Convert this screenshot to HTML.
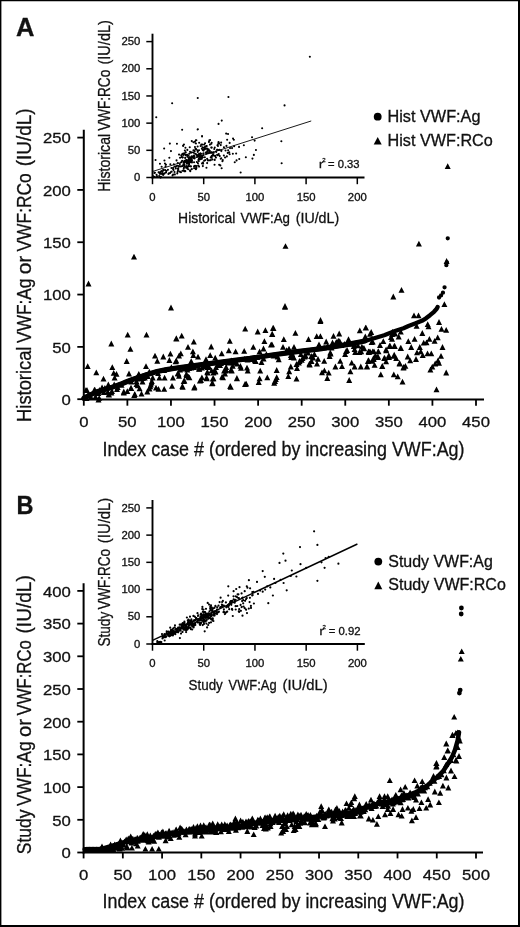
<!DOCTYPE html>
<html><head><meta charset="utf-8"><title>Figure</title>
<style>html,body{margin:0;padding:0;background:#fff}svg{display:block}text{font-family:"Liberation Sans",Arial,Helvetica,sans-serif;fill:#111;stroke:#111;stroke-width:0.3px}</style>
</head><body>
<svg width="520" height="927" viewBox="0 0 520 927">
<rect x="0" y="0" width="520" height="927" fill="#fff"/>
<rect x="0" y="0" width="520" height="1.25" fill="#000"/>
<rect x="0" y="0" width="1.4" height="927" fill="#000"/>
<rect x="518" y="0" width="2" height="927" fill="#000"/>
<rect x="0" y="925" width="520" height="2" fill="#000"/>
<text x="15.9" y="35.5" font-size="25.5" text-anchor="start" font-weight="bold" stroke-width="0.5">A</text>
<text x="16.4" y="513.6" font-size="25.5" text-anchor="start" textLength="17" lengthAdjust="spacingAndGlyphs" font-weight="bold" stroke-width="0.5">B</text>
<line x1="83.8" y1="129.8" x2="83.8" y2="400.4" stroke="#000" stroke-width="2" />
<line x1="82.8" y1="399.4" x2="484" y2="399.4" stroke="#000" stroke-width="2" />
<line x1="77.3" y1="399.2" x2="83.8" y2="399.2" stroke="#000" stroke-width="1.8" />
<text x="70.8" y="405.0" font-size="15.4" text-anchor="end" textLength="9.3" lengthAdjust="spacingAndGlyphs" >0</text>
<line x1="77.3" y1="346.88" x2="83.8" y2="346.88" stroke="#000" stroke-width="1.8" />
<text x="70.8" y="352.68" font-size="15.4" text-anchor="end" textLength="18.6" lengthAdjust="spacingAndGlyphs" >50</text>
<line x1="77.3" y1="294.559" x2="83.8" y2="294.559" stroke="#000" stroke-width="1.8" />
<text x="70.8" y="300.359" font-size="15.4" text-anchor="end" textLength="27.900" lengthAdjust="spacingAndGlyphs" >100</text>
<line x1="77.3" y1="242.239" x2="83.8" y2="242.239" stroke="#000" stroke-width="1.8" />
<text x="70.8" y="248.04" font-size="15.4" text-anchor="end" textLength="27.900" lengthAdjust="spacingAndGlyphs" >150</text>
<line x1="77.3" y1="189.919" x2="83.8" y2="189.919" stroke="#000" stroke-width="1.8" />
<text x="70.8" y="195.719" font-size="15.4" text-anchor="end" textLength="27.900" lengthAdjust="spacingAndGlyphs" >200</text>
<line x1="77.3" y1="137.599" x2="83.8" y2="137.599" stroke="#000" stroke-width="1.8" />
<text x="70.8" y="143.399" font-size="15.4" text-anchor="end" textLength="27.900" lengthAdjust="spacingAndGlyphs" >250</text>
<line x1="83.8" y1="399.4" x2="83.8" y2="405.7" stroke="#000" stroke-width="1.8" />
<text x="83.8" y="426.9" font-size="15.4" text-anchor="middle" textLength="9.3" lengthAdjust="spacingAndGlyphs" >0</text>
<line x1="127.377" y1="399.4" x2="127.377" y2="405.7" stroke="#000" stroke-width="1.8" />
<text x="127.377" y="426.9" font-size="15.4" text-anchor="middle" textLength="18.6" lengthAdjust="spacingAndGlyphs" >50</text>
<line x1="170.955" y1="399.4" x2="170.955" y2="405.7" stroke="#000" stroke-width="1.8" />
<text x="170.955" y="426.9" font-size="15.4" text-anchor="middle" textLength="27.900" lengthAdjust="spacingAndGlyphs" >100</text>
<line x1="214.533" y1="399.4" x2="214.533" y2="405.7" stroke="#000" stroke-width="1.8" />
<text x="214.533" y="426.9" font-size="15.4" text-anchor="middle" textLength="27.900" lengthAdjust="spacingAndGlyphs" >150</text>
<line x1="258.111" y1="399.4" x2="258.111" y2="405.7" stroke="#000" stroke-width="1.8" />
<text x="258.111" y="426.9" font-size="15.4" text-anchor="middle" textLength="27.900" lengthAdjust="spacingAndGlyphs" >200</text>
<line x1="301.688" y1="399.4" x2="301.688" y2="405.7" stroke="#000" stroke-width="1.8" />
<text x="301.688" y="426.9" font-size="15.4" text-anchor="middle" textLength="27.900" lengthAdjust="spacingAndGlyphs" >250</text>
<line x1="345.266" y1="399.4" x2="345.266" y2="405.7" stroke="#000" stroke-width="1.8" />
<text x="345.266" y="426.9" font-size="15.4" text-anchor="middle" textLength="27.900" lengthAdjust="spacingAndGlyphs" >300</text>
<line x1="388.844" y1="399.4" x2="388.844" y2="405.7" stroke="#000" stroke-width="1.8" />
<text x="388.844" y="426.9" font-size="15.4" text-anchor="middle" textLength="27.900" lengthAdjust="spacingAndGlyphs" >350</text>
<line x1="432.422" y1="399.4" x2="432.422" y2="405.7" stroke="#000" stroke-width="1.8" />
<text x="432.422" y="426.9" font-size="15.4" text-anchor="middle" textLength="27.900" lengthAdjust="spacingAndGlyphs" >400</text>
<line x1="476.0" y1="399.4" x2="476.0" y2="405.7" stroke="#000" stroke-width="1.8" />
<text x="476.0" y="426.9" font-size="15.4" text-anchor="middle" textLength="27.900" lengthAdjust="spacingAndGlyphs" >450</text>
<text x="283.5" y="455.5" font-size="19.4" text-anchor="middle" textLength="362" lengthAdjust="spacingAndGlyphs" >Index case # (ordered by increasing VWF:Ag)</text>
<text x="31.3" y="421.9" font-size="20.8" textLength="75.3" lengthAdjust="spacingAndGlyphs" stroke-width="0.15" transform="rotate(-90 31.3 421.9)">Historical</text>
<text x="31.3" y="342.9" font-size="20.8" textLength="64.4" lengthAdjust="spacingAndGlyphs" stroke-width="0.15" transform="rotate(-90 31.3 342.9)">VWF:Ag</text>
<text x="31.3" y="274.3" font-size="20.8" textLength="18.6" lengthAdjust="spacingAndGlyphs" stroke-width="0.15" transform="rotate(-90 31.3 274.3)">or</text>
<text x="31.3" y="251.5" font-size="20.8" textLength="78.3" lengthAdjust="spacingAndGlyphs" stroke-width="0.15" transform="rotate(-90 31.3 251.5)">VWF:RCo</text>
<text x="31.3" y="166.2" font-size="20.8" textLength="57.7" lengthAdjust="spacingAndGlyphs" stroke-width="0.15" transform="rotate(-90 31.3 166.2)">(IU/dL)</text>
<line x1="152.5" y1="33.7" x2="152.5" y2="178.4" stroke="#000" stroke-width="1.9" />
<line x1="151.6" y1="177.5" x2="364.5" y2="177.5" stroke="#000" stroke-width="1.9" />
<line x1="146.3" y1="177.5" x2="152.5" y2="177.5" stroke="#000" stroke-width="1.5" />
<text x="140.3" y="181.2" font-size="10.2" text-anchor="end" textLength="6.3" lengthAdjust="spacingAndGlyphs" >0</text>
<line x1="146.3" y1="150.32" x2="152.5" y2="150.32" stroke="#000" stroke-width="1.5" />
<text x="140.3" y="154.019" font-size="10.2" text-anchor="end" textLength="12.6" lengthAdjust="spacingAndGlyphs" >50</text>
<line x1="146.3" y1="123.14" x2="152.5" y2="123.14" stroke="#000" stroke-width="1.5" />
<text x="140.3" y="126.84" font-size="10.2" text-anchor="end" textLength="18.9" lengthAdjust="spacingAndGlyphs" >100</text>
<line x1="146.3" y1="95.96" x2="152.5" y2="95.96" stroke="#000" stroke-width="1.5" />
<text x="140.3" y="99.66" font-size="10.2" text-anchor="end" textLength="18.9" lengthAdjust="spacingAndGlyphs" >150</text>
<line x1="146.3" y1="68.78" x2="152.5" y2="68.78" stroke="#000" stroke-width="1.5" />
<text x="140.3" y="72.48" font-size="10.2" text-anchor="end" textLength="18.9" lengthAdjust="spacingAndGlyphs" >200</text>
<line x1="146.3" y1="41.599" x2="152.5" y2="41.599" stroke="#000" stroke-width="1.5" />
<text x="140.3" y="45.3" font-size="10.2" text-anchor="end" textLength="18.9" lengthAdjust="spacingAndGlyphs" >250</text>
<line x1="152.5" y1="177.5" x2="152.5" y2="184.2" stroke="#000" stroke-width="1.5" />
<text x="152.5" y="200.6" font-size="10.2" text-anchor="middle" textLength="6.3" lengthAdjust="spacingAndGlyphs" >0</text>
<line x1="203.7" y1="177.5" x2="203.7" y2="184.2" stroke="#000" stroke-width="1.5" />
<text x="203.7" y="200.6" font-size="10.2" text-anchor="middle" textLength="12.6" lengthAdjust="spacingAndGlyphs" >50</text>
<line x1="254.9" y1="177.5" x2="254.9" y2="184.2" stroke="#000" stroke-width="1.5" />
<text x="254.9" y="200.6" font-size="10.2" text-anchor="middle" textLength="18.9" lengthAdjust="spacingAndGlyphs" >100</text>
<line x1="306.1" y1="177.5" x2="306.1" y2="184.2" stroke="#000" stroke-width="1.5" />
<text x="306.1" y="200.6" font-size="10.2" text-anchor="middle" textLength="18.9" lengthAdjust="spacingAndGlyphs" >150</text>
<line x1="357.3" y1="177.5" x2="357.3" y2="184.2" stroke="#000" stroke-width="1.5" />
<text x="357.3" y="200.6" font-size="10.2" text-anchor="middle" textLength="18.9" lengthAdjust="spacingAndGlyphs" >200</text>
<text x="178.1" y="223.3" font-size="15.4" textLength="57.2" lengthAdjust="spacingAndGlyphs">Historical</text>
<text x="240.4" y="223.3" font-size="15.4" textLength="49.6" lengthAdjust="spacingAndGlyphs">VWF:Ag</text>
<text x="295.7" y="223.3" font-size="15.4" textLength="43.5" lengthAdjust="spacingAndGlyphs">(IU/dL)</text>
<text x="110" y="191.8" font-size="17.2" textLength="57.9" lengthAdjust="spacingAndGlyphs" stroke-width="0.15" transform="rotate(-90 110 191.8)">Historical</text>
<text x="110" y="130.8" font-size="17.2" textLength="61.0" lengthAdjust="spacingAndGlyphs" stroke-width="0.15" transform="rotate(-90 110 130.8)">VWF:RCo</text>
<text x="110" y="64.5" font-size="17.2" textLength="44.4" lengthAdjust="spacingAndGlyphs" stroke-width="0.15" transform="rotate(-90 110 64.5)">(IU/dL)</text>
<line x1="152.5" y1="171.520" x2="311.22" y2="120.965" stroke="#000" stroke-width="0.9" />
<text x="319.0" y="168.2" font-size="10" textLength="4.2" lengthAdjust="spacingAndGlyphs" stroke="#111" stroke-width="0.3">r</text><text x="322.2" y="161.6" font-size="5.8" textLength="3.4" lengthAdjust="spacingAndGlyphs" stroke="#111" stroke-width="0.3">2</text><text x="328.0" y="168.2" font-size="10" textLength="31.5" lengthAdjust="spacingAndGlyphs" stroke="#111" stroke-width="0.3">= 0.33</text>
<circle cx="377.7" cy="116.7" r="3.9" fill="#000"/>
<text x="387.5" y="122.1" font-size="15.8" text-anchor="start" textLength="93" lengthAdjust="spacingAndGlyphs" >Hist VWF:Ag</text>
<path d="M373.7 144.6L381.7 144.6L377.7 137.0Z" fill="#000"/>
<text x="387.5" y="145.8" font-size="15.8" text-anchor="start" textLength="105.3" lengthAdjust="spacingAndGlyphs" >Hist VWF:RCo</text>
<line x1="83.6" y1="583.2" x2="83.6" y2="853.5" stroke="#000" stroke-width="2" />
<line x1="82.6" y1="852.5" x2="483" y2="852.5" stroke="#000" stroke-width="2" />
<line x1="77.3" y1="852.5" x2="83.6" y2="852.5" stroke="#000" stroke-width="1.8" />
<text x="70.8" y="858.3" font-size="15.4" text-anchor="end" textLength="9.3" lengthAdjust="spacingAndGlyphs" >0</text>
<line x1="77.3" y1="819.8" x2="83.6" y2="819.8" stroke="#000" stroke-width="1.8" />
<text x="70.8" y="825.599" font-size="15.4" text-anchor="end" textLength="18.6" lengthAdjust="spacingAndGlyphs" >50</text>
<line x1="77.3" y1="787.1" x2="83.6" y2="787.1" stroke="#000" stroke-width="1.8" />
<text x="70.8" y="792.9" font-size="15.4" text-anchor="end" textLength="27.900" lengthAdjust="spacingAndGlyphs" >100</text>
<line x1="77.3" y1="754.4" x2="83.6" y2="754.4" stroke="#000" stroke-width="1.8" />
<text x="70.8" y="760.199" font-size="15.4" text-anchor="end" textLength="27.900" lengthAdjust="spacingAndGlyphs" >150</text>
<line x1="77.3" y1="721.7" x2="83.6" y2="721.7" stroke="#000" stroke-width="1.8" />
<text x="70.8" y="727.5" font-size="15.4" text-anchor="end" textLength="27.900" lengthAdjust="spacingAndGlyphs" >200</text>
<line x1="77.3" y1="689.0" x2="83.6" y2="689.0" stroke="#000" stroke-width="1.8" />
<text x="70.8" y="694.8" font-size="15.4" text-anchor="end" textLength="27.900" lengthAdjust="spacingAndGlyphs" >250</text>
<line x1="77.3" y1="656.3" x2="83.6" y2="656.3" stroke="#000" stroke-width="1.8" />
<text x="70.8" y="662.099" font-size="15.4" text-anchor="end" textLength="27.900" lengthAdjust="spacingAndGlyphs" >300</text>
<line x1="77.3" y1="623.599" x2="83.6" y2="623.599" stroke="#000" stroke-width="1.8" />
<text x="70.8" y="629.399" font-size="15.4" text-anchor="end" textLength="27.900" lengthAdjust="spacingAndGlyphs" >350</text>
<line x1="77.3" y1="590.9" x2="83.6" y2="590.9" stroke="#000" stroke-width="1.8" />
<text x="70.8" y="596.699" font-size="15.4" text-anchor="end" textLength="27.900" lengthAdjust="spacingAndGlyphs" >400</text>
<line x1="83.6" y1="852.5" x2="83.6" y2="858.4" stroke="#000" stroke-width="1.8" />
<text x="83.6" y="879.6" font-size="15.4" text-anchor="middle" textLength="9.3" lengthAdjust="spacingAndGlyphs" >0</text>
<line x1="122.84" y1="852.5" x2="122.84" y2="858.4" stroke="#000" stroke-width="1.8" />
<text x="122.84" y="879.6" font-size="15.4" text-anchor="middle" textLength="18.6" lengthAdjust="spacingAndGlyphs" >50</text>
<line x1="162.079" y1="852.5" x2="162.079" y2="858.4" stroke="#000" stroke-width="1.8" />
<text x="162.079" y="879.6" font-size="15.4" text-anchor="middle" textLength="27.900" lengthAdjust="spacingAndGlyphs" >100</text>
<line x1="201.32" y1="852.5" x2="201.32" y2="858.4" stroke="#000" stroke-width="1.8" />
<text x="201.32" y="879.6" font-size="15.4" text-anchor="middle" textLength="27.900" lengthAdjust="spacingAndGlyphs" >150</text>
<line x1="240.56" y1="852.5" x2="240.56" y2="858.4" stroke="#000" stroke-width="1.8" />
<text x="240.56" y="879.6" font-size="15.4" text-anchor="middle" textLength="27.900" lengthAdjust="spacingAndGlyphs" >200</text>
<line x1="279.799" y1="852.5" x2="279.799" y2="858.4" stroke="#000" stroke-width="1.8" />
<text x="279.799" y="879.6" font-size="15.4" text-anchor="middle" textLength="27.900" lengthAdjust="spacingAndGlyphs" >250</text>
<line x1="319.039" y1="852.5" x2="319.039" y2="858.4" stroke="#000" stroke-width="1.8" />
<text x="319.039" y="879.6" font-size="15.4" text-anchor="middle" textLength="27.900" lengthAdjust="spacingAndGlyphs" >300</text>
<line x1="358.28" y1="852.5" x2="358.28" y2="858.4" stroke="#000" stroke-width="1.8" />
<text x="358.28" y="879.6" font-size="15.4" text-anchor="middle" textLength="27.900" lengthAdjust="spacingAndGlyphs" >350</text>
<line x1="397.52" y1="852.5" x2="397.52" y2="858.4" stroke="#000" stroke-width="1.8" />
<text x="397.52" y="879.6" font-size="15.4" text-anchor="middle" textLength="27.900" lengthAdjust="spacingAndGlyphs" >400</text>
<line x1="436.76" y1="852.5" x2="436.76" y2="858.4" stroke="#000" stroke-width="1.8" />
<text x="436.76" y="879.6" font-size="15.4" text-anchor="middle" textLength="27.900" lengthAdjust="spacingAndGlyphs" >450</text>
<line x1="476.0" y1="852.5" x2="476.0" y2="858.4" stroke="#000" stroke-width="1.8" />
<text x="476.0" y="879.6" font-size="15.4" text-anchor="middle" textLength="27.900" lengthAdjust="spacingAndGlyphs" >500</text>
<text x="283.5" y="907.6" font-size="19.4" text-anchor="middle" textLength="362" lengthAdjust="spacingAndGlyphs" >Index case # (ordered by increasing VWF:Ag)</text>
<text x="31.0" y="854.2" font-size="20.8" textLength="44.7" lengthAdjust="spacingAndGlyphs" stroke-width="0.15" transform="rotate(-90 31.0 854.2)">Study</text>
<text x="31.0" y="806.0" font-size="20.8" textLength="64.6" lengthAdjust="spacingAndGlyphs" stroke-width="0.15" transform="rotate(-90 31.0 806.0)">VWF:Ag</text>
<text x="31.0" y="737.0" font-size="20.8" textLength="18.0" lengthAdjust="spacingAndGlyphs" stroke-width="0.15" transform="rotate(-90 31.0 737.0)">or</text>
<text x="31.0" y="715.5" font-size="20.8" textLength="75.3" lengthAdjust="spacingAndGlyphs" stroke-width="0.15" transform="rotate(-90 31.0 715.5)">VWF:RCo</text>
<text x="31.0" y="633.5" font-size="20.8" textLength="58.3" lengthAdjust="spacingAndGlyphs" stroke-width="0.15" transform="rotate(-90 31.0 633.5)">(IU/dL)</text>
<line x1="152.5" y1="500" x2="152.5" y2="644.9" stroke="#000" stroke-width="1.9" />
<line x1="151.6" y1="644" x2="364.8" y2="644" stroke="#000" stroke-width="1.9" />
<line x1="146.3" y1="644.0" x2="152.5" y2="644.0" stroke="#000" stroke-width="1.5" />
<text x="140.3" y="647.7" font-size="10.2" text-anchor="end" textLength="6.3" lengthAdjust="spacingAndGlyphs" >0</text>
<line x1="146.3" y1="616.78" x2="152.5" y2="616.78" stroke="#000" stroke-width="1.5" />
<text x="140.3" y="620.48" font-size="10.2" text-anchor="end" textLength="12.6" lengthAdjust="spacingAndGlyphs" >50</text>
<line x1="146.3" y1="589.56" x2="152.5" y2="589.56" stroke="#000" stroke-width="1.5" />
<text x="140.3" y="593.26" font-size="10.2" text-anchor="end" textLength="18.9" lengthAdjust="spacingAndGlyphs" >100</text>
<line x1="146.3" y1="562.34" x2="152.5" y2="562.34" stroke="#000" stroke-width="1.5" />
<text x="140.3" y="566.040" font-size="10.2" text-anchor="end" textLength="18.9" lengthAdjust="spacingAndGlyphs" >150</text>
<line x1="146.3" y1="535.12" x2="152.5" y2="535.12" stroke="#000" stroke-width="1.5" />
<text x="140.3" y="538.82" font-size="10.2" text-anchor="end" textLength="18.9" lengthAdjust="spacingAndGlyphs" >200</text>
<line x1="146.3" y1="507.9" x2="152.5" y2="507.9" stroke="#000" stroke-width="1.5" />
<text x="140.3" y="511.599" font-size="10.2" text-anchor="end" textLength="18.9" lengthAdjust="spacingAndGlyphs" >250</text>
<line x1="152.5" y1="644" x2="152.5" y2="650.7" stroke="#000" stroke-width="1.5" />
<text x="152.5" y="667" font-size="10.2" text-anchor="middle" textLength="6.3" lengthAdjust="spacingAndGlyphs" >0</text>
<line x1="203.725" y1="644" x2="203.725" y2="650.7" stroke="#000" stroke-width="1.5" />
<text x="203.725" y="667" font-size="10.2" text-anchor="middle" textLength="12.6" lengthAdjust="spacingAndGlyphs" >50</text>
<line x1="254.95" y1="644" x2="254.95" y2="650.7" stroke="#000" stroke-width="1.5" />
<text x="254.95" y="667" font-size="10.2" text-anchor="middle" textLength="18.9" lengthAdjust="spacingAndGlyphs" >100</text>
<line x1="306.174" y1="644" x2="306.174" y2="650.7" stroke="#000" stroke-width="1.5" />
<text x="306.174" y="667" font-size="10.2" text-anchor="middle" textLength="18.9" lengthAdjust="spacingAndGlyphs" >150</text>
<line x1="357.4" y1="644" x2="357.4" y2="650.7" stroke="#000" stroke-width="1.5" />
<text x="357.4" y="667" font-size="10.2" text-anchor="middle" textLength="18.9" lengthAdjust="spacingAndGlyphs" >200</text>
<text x="188.6" y="690" font-size="15.4" textLength="34.2" lengthAdjust="spacingAndGlyphs">Study</text>
<text x="228.6" y="690" font-size="15.4" textLength="48.0" lengthAdjust="spacingAndGlyphs">VWF:Ag</text>
<text x="282.5" y="690" font-size="15.4" textLength="45.2" lengthAdjust="spacingAndGlyphs">(IU/dL)</text>
<text x="110.2" y="646.6" font-size="17.2" textLength="34.8" lengthAdjust="spacingAndGlyphs" stroke-width="0.15" transform="rotate(-90 110.2 646.6)">Study</text>
<text x="110.2" y="609.6" font-size="17.2" textLength="60.7" lengthAdjust="spacingAndGlyphs" stroke-width="0.15" transform="rotate(-90 110.2 609.6)">VWF:RCo</text>
<text x="110.2" y="543.2" font-size="17.2" textLength="45.5" lengthAdjust="spacingAndGlyphs" stroke-width="0.15" transform="rotate(-90 110.2 543.2)">(IU/dL)</text>
<line x1="152.5" y1="640.352" x2="357.4" y2="543.993" stroke="#000" stroke-width="1.4" />
<text x="319.6" y="635.2" font-size="10" textLength="4.2" lengthAdjust="spacingAndGlyphs" stroke="#111" stroke-width="0.3">r</text><text x="322.6" y="628.7" font-size="5.8" textLength="3.4" lengthAdjust="spacingAndGlyphs" stroke="#111" stroke-width="0.3">2</text><text x="328.8" y="635.2" font-size="10" textLength="31.8" lengthAdjust="spacingAndGlyphs" stroke="#111" stroke-width="0.3">= 0.92</text>
<circle cx="378.3" cy="561.6" r="3.9" fill="#000"/>
<text x="388.3" y="566.5" font-size="15.8" text-anchor="start" textLength="104.5" lengthAdjust="spacingAndGlyphs" >Study VWF:Ag</text>
<path d="M374.3 589.2L382.3 589.2L378.3 581.6Z" fill="#000"/>
<text x="388.3" y="590.2" font-size="15.8" text-anchor="start" textLength="117.5" lengthAdjust="spacingAndGlyphs" >Study VWF:RCo</text>
<path d="M84.0 398.3L86.0 397.0L91.0 394.5L97.0 391.8L103.0 390.0L108.8 388.3L114.0 386.6L120.4 384.3L126.0 382.0L131.9 379.8L137.7 377.6L147.3 374.4L157.0 371.5L166.5 369.6L178.0 367.8L200.0 364.8L225.0 361.6L250.0 358.4L272.0 355.0L295.0 351.9L320.0 348.9L345.0 344.9L365.0 341.0L384.2 335.2L395.0 331.0L403.5 328.2L408.5 326.0L415.0 323.6L421.9 320.8L426.0 318.3L430.0 315.2L434.0 311.8L436.7 308.8L437.6 307.0" fill="none" stroke="#000" stroke-width="4.3" stroke-linecap="round" stroke-linejoin="round"/>
<path d="M84.0 398.3L86.0 397.0L91.0 394.5L97.0 391.8L103.0 390.0L108.8 388.3L114.0 386.6L120.4 384.3L126.0 382.0L131.9 379.8L137.7 377.6L147.3 374.4L157.0 371.5L166.5 369.6L178.0 367.8L200.0 364.8L225.0 361.6L250.0 358.4L272.0 355.0L295.0 351.9L320.0 348.9L345.0 344.9L365.0 341.0" fill="none" stroke="#000" stroke-width="5.2" stroke-linecap="round" stroke-linejoin="round"/>
<path d="M436.9 297.5a2.15 2.15 0 1 0 4.3 0a2.15 2.15 0 1 0 -4.3 0ZM438.9 295.4a2.15 2.15 0 1 0 4.3 0a2.15 2.15 0 1 0 -4.3 0ZM440.8 292.7a2.15 2.15 0 1 0 4.3 0a2.15 2.15 0 1 0 -4.3 0ZM442.4 287.3a2.15 2.15 0 1 0 4.3 0a2.15 2.15 0 1 0 -4.3 0ZM444.2 265.2a2.15 2.15 0 1 0 4.3 0a2.15 2.15 0 1 0 -4.3 0ZM444.8 262.5a2.15 2.15 0 1 0 4.3 0a2.15 2.15 0 1 0 -4.3 0ZM445.6 238.3a2.15 2.15 0 1 0 4.3 0a2.15 2.15 0 1 0 -4.3 0Z" fill="#000"/>
<path d="M84.7 369.1L90.7 369.1L87.7 363.3ZM93.3 375.2L99.3 375.2L96.3 369.4ZM108.3 346.4L114.3 346.4L111.3 340.6ZM124.7 337.5L130.7 337.5L127.7 331.8ZM127.4 351.7L133.4 351.7L130.4 345.9ZM143.5 337.5L149.5 337.5L146.5 331.8ZM123.7 363.9L129.7 363.9L126.7 358.1ZM109.3 370.0L115.3 370.0L112.3 364.2ZM110.7 375.8L116.7 375.8L113.7 370.0ZM113.5 376.7L119.5 376.7L116.5 370.9ZM111.6 380.6L117.6 380.6L114.6 374.8ZM100.5 381.6L106.5 381.6L103.5 375.8ZM126.0 376.4L132.0 376.4L129.0 370.6ZM143.0 369.1L149.0 369.1L146.0 363.3ZM152.0 358.5L158.0 358.5L155.0 352.8ZM154.3 363.7L160.3 363.7L157.3 357.9ZM160.3 359.4L166.3 359.4L163.3 353.6ZM167.4 356.6L173.4 356.6L170.4 350.8ZM166.4 362.9L172.4 362.9L169.4 357.1ZM173.2 341.2L179.2 341.2L176.2 335.4ZM172.6 364.2L178.6 364.2L175.6 358.4ZM176.0 358.5L182.0 358.5L179.0 352.8ZM120.8 394.4L126.8 394.4L123.8 388.6ZM128.0 390.6L134.0 390.6L131.0 384.8ZM131.8 396.9L137.8 396.9L134.8 391.1ZM134.7 388.2L140.7 388.2L137.7 382.5ZM138.5 396.6L144.5 396.6L141.5 390.8ZM136.6 391.2L142.6 391.2L139.6 385.4ZM144.3 394.4L150.3 394.4L147.3 388.6ZM147.2 389.2L153.2 389.2L150.2 383.4ZM148.5 385.4L154.5 385.4L151.5 379.6ZM153.0 390.6L159.0 390.6L156.0 384.8ZM155.5 391.7L161.5 391.7L158.5 385.9ZM161.2 391.7L167.2 391.7L164.2 385.9ZM156.4 380.6L162.4 380.6L159.4 374.8ZM161.6 380.6L167.6 380.6L164.6 374.8ZM169.0 388.7L175.0 388.7L172.0 382.9ZM169.9 380.6L175.9 380.6L172.9 374.8ZM176.0 378.7L182.0 378.7L179.0 372.9ZM139.5 384.4L145.5 384.4L142.5 378.6ZM82.8 393.1L88.8 393.1L85.8 387.3ZM85.6 396.9L91.6 396.9L88.6 391.1ZM91.4 392.5L97.4 392.5L94.4 386.8ZM95.3 395.9L101.3 395.9L98.3 390.1ZM96.2 400.8L102.2 400.8L99.2 395.0ZM99.1 390.2L105.1 390.2L102.1 384.4ZM101.0 395.0L107.0 395.0L104.0 389.2ZM105.8 388.2L111.8 388.2L108.8 382.5ZM105.8 396.9L111.8 396.9L108.8 391.1ZM80.8 399.8L86.8 399.8L83.8 394.0ZM88.0 399.9L94.0 399.9L91.0 394.1ZM83.5 400.9L89.5 400.9L86.5 395.1ZM92.5 399.4L98.5 399.4L95.5 393.6ZM109.0 393.9L115.0 393.9L112.0 388.1ZM114.0 391.9L120.0 391.9L117.0 386.1ZM105.3 387.4L111.3 387.4L108.3 381.6ZM99.0 390.4L105.0 390.4L102.0 384.6ZM92.0 392.9L98.0 392.9L95.0 387.1ZM84.0 392.9L90.0 392.9L87.0 387.1ZM106.0 397.4L112.0 397.4L109.0 391.6ZM95.5 402.4L101.5 402.4L98.5 396.6ZM120.8 395.4L126.8 395.4L123.8 389.6ZM131.2 397.9L137.2 397.9L134.2 392.1ZM128.3 391.1L134.3 391.1L131.3 385.3ZM133.5 387.1L139.5 387.1L136.5 381.3ZM149.7 380.4L155.7 380.4L152.7 374.6ZM148.8 383.9L154.8 383.9L151.8 378.1ZM147.8 387.4L153.8 387.4L150.8 381.6ZM146.5 391.4L152.5 391.4L149.5 385.6ZM178.7 338.5L184.7 338.5L181.7 332.8ZM173.5 341.4L179.5 341.4L176.5 335.6ZM190.8 344.6L196.8 344.6L193.8 338.8ZM185.0 349.8L191.0 349.8L188.0 344.0ZM189.9 354.2L195.9 354.2L192.9 348.4ZM190.3 358.1L196.3 358.1L193.3 352.3ZM177.8 356.2L183.8 356.2L180.8 350.4ZM195.0 359.6L201.0 359.6L198.0 353.8ZM208.2 349.4L214.2 349.4L211.2 343.6ZM207.2 358.1L213.2 358.1L210.2 352.3ZM218.7 356.2L224.7 356.2L221.7 350.4ZM226.8 343.7L232.8 343.7L229.8 337.9ZM225.8 353.2L231.8 353.2L228.8 347.5ZM232.6 354.2L238.6 354.2L235.6 348.4ZM242.2 331.6L248.2 331.6L245.2 325.8ZM241.2 353.7L247.2 353.7L244.2 347.9ZM250.3 349.8L256.3 349.8L253.3 344.0ZM254.7 334.4L260.7 334.4L257.7 328.6ZM262.4 333.1L268.4 333.1L265.4 327.3ZM270.0 330.8L276.0 330.8L273.0 325.0ZM261.4 344.1L267.4 344.1L264.4 338.3ZM269.0 336.9L275.0 336.9L272.0 331.1ZM268.0 347.5L274.0 347.5L271.0 341.8ZM260.5 351.4L266.5 351.4L263.5 345.6ZM256.6 354.2L262.6 354.2L259.6 348.4ZM179.7 389.8L185.7 389.8L182.7 384.0ZM191.2 390.4L197.2 390.4L194.2 384.6ZM180.7 384.1L186.7 384.1L183.7 378.3ZM183.5 378.2L189.5 378.2L186.5 372.5ZM186.4 380.2L192.4 380.2L189.4 374.4ZM175.5 376.4L181.5 376.4L178.5 370.6ZM198.0 383.1L204.0 383.1L201.0 377.3ZM203.7 381.2L209.7 381.2L206.7 375.4ZM209.5 385.9L215.5 385.9L212.5 380.1ZM210.5 381.2L216.5 381.2L213.5 375.4ZM204.7 375.4L210.7 375.4L207.7 369.6ZM212.4 374.4L218.4 374.4L215.4 368.6ZM220.0 380.2L226.0 380.2L223.0 374.4ZM222.0 376.4L228.0 376.4L225.0 370.6ZM223.0 372.5L229.0 372.5L226.0 366.8ZM227.8 389.8L233.8 389.8L230.8 384.0ZM228.7 373.5L234.7 373.5L231.7 367.8ZM234.0 381.2L240.0 381.2L237.0 375.4ZM243.2 386.6L249.2 386.6L246.2 380.8ZM244.7 373.5L250.7 373.5L247.7 367.8ZM244.0 370.6L250.0 370.6L247.0 364.8ZM255.7 384.9L261.7 384.9L258.7 379.1ZM256.6 381.2L262.6 381.2L259.6 375.4ZM257.2 373.5L263.2 373.5L260.2 367.8ZM264.3 380.2L270.3 380.2L267.3 374.4ZM272.0 384.1L278.0 384.1L275.0 378.3ZM229.7 368.7L235.7 368.7L232.7 362.9ZM237.4 368.7L243.4 368.7L240.4 362.9ZM199.0 370.6L205.0 370.6L202.0 364.8ZM192.8 368.7L198.8 368.7L195.8 362.9ZM188.3 370.6L194.3 370.6L191.3 364.8ZM258.5 364.9L264.5 364.9L261.5 359.1ZM251.8 363.2L257.8 363.2L254.8 357.5ZM174.7 376.2L180.7 376.2L177.7 370.4ZM183.4 376.8L189.4 376.8L186.4 371.0ZM185.5 379.5L191.5 379.5L188.5 373.8ZM181.4 383.6L187.4 383.6L184.4 377.8ZM179.4 388.9L185.4 388.9L182.4 383.1ZM191.5 389.6L197.5 389.6L194.5 383.8ZM198.9 380.2L204.9 380.2L201.9 374.4ZM196.9 383.6L202.9 383.6L199.9 377.8ZM204.3 374.8L210.3 374.8L207.3 369.0ZM203.6 380.2L209.6 380.2L206.6 374.4ZM209.7 381.5L215.7 381.5L212.7 375.8ZM209.0 386.2L215.0 386.2L212.0 380.5ZM212.4 374.1L218.4 374.1L215.4 368.3ZM219.1 379.5L225.1 379.5L222.1 373.8ZM222.5 373.5L228.5 373.5L225.5 367.8ZM227.2 388.9L233.2 388.9L230.2 383.1ZM228.5 372.8L234.5 372.8L231.5 367.0ZM233.9 380.9L239.9 380.9L236.9 375.1ZM238.0 370.8L244.0 370.8L241.0 365.0ZM242.0 386.9L248.0 386.9L245.0 381.1ZM210.4 375.5L216.4 375.5L213.4 369.8ZM211.7 372.8L217.7 372.8L214.7 367.0ZM213.0 370.1L219.0 370.1L216.0 364.3ZM214.4 367.4L220.4 367.4L217.4 361.6ZM221.1 373.5L227.1 373.5L224.1 367.8ZM223.1 369.9L229.1 369.9L226.1 364.1ZM225.2 365.4L231.2 365.4L228.2 359.6ZM227.9 372.8L233.9 372.8L230.9 367.0ZM229.5 368.7L235.5 368.7L232.5 362.9ZM231.2 364.1L237.2 364.1L234.2 358.3ZM173.3 363.4L179.3 363.4L176.3 357.6ZM188.2 364.1L194.2 364.1L191.2 358.3ZM203.0 362.0L209.0 362.0L206.0 356.2ZM177.0 372.4L183.0 372.4L180.0 366.6ZM181.0 371.4L187.0 371.4L184.0 365.6ZM186.0 370.9L192.0 370.9L189.0 365.1ZM191.0 369.9L197.0 369.9L194.0 364.1ZM196.0 371.4L202.0 371.4L199.0 365.6ZM201.0 368.9L207.0 368.9L204.0 363.1ZM206.0 369.4L212.0 369.4L209.0 363.6ZM217.0 367.9L223.0 367.9L220.0 362.1ZM234.0 366.4L240.0 366.4L237.0 360.6ZM282.0 309.8L288.0 309.8L285.0 304.0ZM317.4 323.9L323.4 323.9L320.4 318.1ZM270.5 330.9L276.5 330.9L273.5 325.1ZM269.3 336.7L275.3 336.7L272.3 330.9ZM292.4 335.8L298.4 335.8L295.4 330.0ZM280.8 342.1L286.8 342.1L283.8 336.3ZM269.0 347.2L275.0 347.2L272.0 341.5ZM280.0 349.8L286.0 349.8L283.0 344.0ZM291.0 349.8L297.0 349.8L294.0 344.0ZM305.5 342.1L311.5 342.1L308.5 336.3ZM313.7 339.1L319.7 339.1L316.7 333.3ZM317.4 339.1L323.4 339.1L320.4 333.3ZM316.0 347.2L322.0 347.2L319.0 341.5ZM323.2 344.4L329.2 344.4L326.2 338.6ZM330.5 338.7L336.5 338.7L333.5 332.9ZM336.2 336.4L342.2 336.4L339.2 330.6ZM335.3 343.5L341.3 343.5L338.3 337.8ZM329.5 345.4L335.5 345.4L332.5 339.6ZM345.5 342.1L351.5 342.1L348.5 336.3ZM356.8 333.2L362.8 333.2L359.8 327.5ZM362.6 330.6L368.6 330.6L365.6 324.8ZM367.0 336.7L373.0 336.7L370.0 330.9ZM272.8 381.9L278.8 381.9L275.8 376.1ZM271.2 385.8L277.2 385.8L274.2 380.0ZM273.7 380.0L279.7 380.0L276.7 374.2ZM271.8 383.9L277.8 383.9L274.8 378.1ZM273.7 372.9L279.7 372.9L276.7 367.1ZM275.7 362.2L281.7 362.2L278.7 356.5ZM285.3 379.1L291.3 379.1L288.3 373.3ZM286.2 374.2L292.2 374.2L289.2 368.4ZM287.8 369.4L293.8 369.4L290.8 363.6ZM288.2 359.9L294.2 359.9L291.2 354.1ZM293.5 381.6L299.5 381.6L296.5 375.8ZM294.0 370.9L300.0 370.9L297.0 365.1ZM306.4 366.6L312.4 366.6L309.4 360.8ZM308.3 358.9L314.3 358.9L311.3 353.1ZM314.0 366.6L320.0 366.6L317.0 360.8ZM315.0 361.7L321.0 361.7L318.0 355.9ZM321.2 363.7L327.2 363.7L324.2 357.9ZM319.0 375.2L325.0 375.2L322.0 369.4ZM321.4 373.2L327.4 373.2L324.4 367.5ZM325.7 375.6L331.7 375.6L328.7 369.8ZM324.3 380.9L330.3 380.9L327.3 375.1ZM326.6 358.9L332.6 358.9L329.6 353.1ZM332.4 369.4L338.4 369.4L335.4 363.6ZM337.2 363.7L343.2 363.7L340.2 357.9ZM339.0 369.1L345.0 369.1L342.0 363.3ZM346.2 382.9L352.2 382.9L349.2 377.1ZM347.4 374.2L353.4 374.2L350.4 368.4ZM348.7 365.6L354.7 365.6L351.7 359.8ZM351.6 369.4L357.6 369.4L354.6 363.6ZM357.8 369.4L363.8 369.4L360.8 363.6ZM364.0 369.1L370.0 369.1L367.0 363.3ZM356.4 354.9L362.4 354.9L359.4 349.1ZM351.6 352.1L357.6 352.1L354.6 346.3ZM361.2 351.2L367.2 351.2L364.2 345.4ZM366.0 354.9L372.0 354.9L369.0 349.1ZM343.0 354.1L349.0 354.1L346.0 348.3ZM295.8 365.6L301.8 365.6L298.8 359.8ZM298.7 362.7L304.7 362.7L301.7 356.9ZM301.6 359.4L307.6 359.4L304.6 353.6ZM293.5 366.9L299.5 366.9L296.5 361.1ZM296.5 363.9L302.5 363.9L299.5 358.1ZM299.5 360.9L305.5 360.9L302.5 355.1ZM302.0 357.9L308.0 357.9L305.0 352.1ZM306.7 367.5L312.7 367.5L309.7 361.8ZM308.5 363.9L314.5 363.9L311.5 358.1ZM310.0 360.4L316.0 360.4L313.0 354.6ZM311.4 356.9L317.4 356.9L314.4 351.1ZM327.3 355.4L333.3 355.4L330.3 349.6ZM333.3 344.8L339.3 344.8L336.3 339.0ZM336.7 344.1L342.7 344.1L339.7 338.3ZM341.4 346.8L347.4 346.8L344.4 341.0ZM345.5 342.1L351.5 342.1L348.5 336.3ZM346.8 346.8L352.8 346.8L349.8 341.0ZM350.8 348.9L356.8 348.9L353.8 343.1ZM354.9 348.2L360.9 348.2L357.9 342.4ZM358.9 349.5L364.9 349.5L361.9 343.8ZM360.9 350.9L366.9 350.9L363.9 345.1ZM344.1 352.9L350.1 352.9L347.1 347.1ZM342.1 356.9L348.1 356.9L345.1 351.1ZM352.2 354.9L358.2 354.9L355.2 349.1ZM358.2 354.2L364.2 354.2L361.2 348.4ZM367.0 354.2L373.0 354.2L370.0 348.4ZM371.0 354.2L377.0 354.2L374.0 348.4ZM375.1 354.2L381.1 354.2L378.1 348.4ZM372.4 358.2L378.4 358.2L375.4 352.5ZM370.4 361.0L376.4 361.0L373.4 355.2ZM375.1 359.6L381.1 359.6L378.1 353.8ZM365.6 363.0L371.6 363.0L368.6 357.2ZM369.0 363.7L375.0 363.7L372.0 357.9ZM383.1 352.2L389.1 352.2L386.1 346.4ZM387.2 348.9L393.2 348.9L390.2 343.1ZM391.2 348.9L397.2 348.9L394.2 343.1ZM398.0 350.9L404.0 350.9L401.0 345.1ZM381.8 361.0L387.8 361.0L384.8 355.2ZM385.8 358.2L391.8 358.2L388.8 352.5ZM391.2 357.6L397.2 357.6L394.2 351.8ZM393.2 361.0L399.2 361.0L396.2 355.2ZM383.1 364.2L389.1 364.2L386.1 358.5ZM379.1 369.0L385.1 369.0L382.1 363.2ZM396.6 366.4L402.6 366.4L399.6 360.6ZM400.6 369.7L406.6 369.7L403.6 363.9ZM398.5 292.7L404.5 292.7L401.5 286.9ZM390.3 299.4L396.3 299.4L393.3 293.6ZM441.4 307.1L447.4 307.1L444.4 301.3ZM411.0 318.2L417.0 318.2L414.0 312.5ZM415.5 318.2L421.5 318.2L418.5 312.5ZM436.0 324.9L442.0 324.9L439.0 319.1ZM425.5 329.2L431.5 329.2L428.5 323.4ZM438.5 331.7L444.5 331.7L441.5 325.9ZM443.2 332.7L449.2 332.7L446.2 326.9ZM363.0 330.6L369.0 330.6L366.0 324.8ZM368.2 334.9L374.2 334.9L371.2 329.1ZM419.3 335.9L425.3 335.9L422.3 330.1ZM434.7 340.2L440.7 340.2L437.7 334.4ZM431.6 343.7L437.6 343.7L434.6 337.9ZM426.4 341.7L432.4 341.7L429.4 335.9ZM423.5 345.2L429.5 345.2L426.5 339.4ZM411.6 341.7L417.6 341.7L414.6 335.9ZM405.3 344.1L411.3 344.1L408.3 338.3ZM395.7 339.4L401.7 339.4L398.7 333.6ZM389.0 341.7L395.0 341.7L392.0 335.9ZM380.3 344.1L386.3 344.1L383.3 338.3ZM439.5 349.9L445.5 349.9L442.5 344.1ZM416.8 349.9L422.8 349.9L419.8 344.1ZM408.2 349.9L414.2 349.9L411.2 344.1ZM397.6 350.8L403.6 350.8L400.6 345.0ZM391.8 348.9L397.8 348.9L394.8 343.1ZM386.6 348.5L392.6 348.5L389.6 342.8ZM377.0 347.9L383.0 347.9L380.0 342.1ZM383.2 353.2L389.2 353.2L386.2 347.5ZM375.5 354.2L381.5 354.2L378.5 348.4ZM369.7 354.2L375.7 354.2L372.7 348.4ZM365.5 354.2L371.5 354.2L368.5 348.4ZM417.8 354.2L423.8 354.2L420.8 348.4ZM414.0 355.2L420.0 355.2L417.0 349.4ZM424.5 356.2L430.5 356.2L427.5 350.4ZM428.3 356.2L434.3 356.2L431.3 350.4ZM438.0 358.7L444.0 358.7L441.0 352.9ZM404.7 359.4L410.7 359.4L407.7 353.6ZM390.8 358.7L396.8 358.7L393.8 352.9ZM386.0 359.9L392.0 359.9L389.0 354.1ZM381.2 360.9L387.2 360.9L384.2 355.1ZM374.5 359.9L380.5 359.9L377.5 354.1ZM370.7 361.9L376.7 361.9L373.7 356.1ZM364.9 363.9L370.9 363.9L367.9 358.1ZM407.2 363.2L413.2 363.2L410.2 357.5ZM413.0 361.9L419.0 361.9L416.0 356.1ZM435.0 363.2L441.0 363.2L438.0 357.5ZM432.2 366.4L438.2 366.4L435.2 360.6ZM429.3 369.6L435.3 369.6L432.3 363.8ZM427.4 372.5L433.4 372.5L430.4 366.8ZM436.0 365.8L442.0 365.8L439.0 360.0ZM396.6 365.8L402.6 365.8L399.6 360.0ZM402.4 368.7L408.4 368.7L405.4 362.9ZM400.5 370.6L406.5 370.6L403.5 364.8ZM379.3 368.7L385.3 368.7L382.3 362.9ZM371.6 367.7L377.6 367.7L374.6 361.9ZM364.0 369.6L370.0 369.6L367.0 363.8ZM377.8 377.2L383.8 377.2L380.8 371.5ZM390.8 377.2L396.8 377.2L393.8 371.5ZM394.7 379.2L400.7 379.2L397.7 373.4ZM399.5 384.6L405.5 384.6L402.5 378.8ZM443.2 375.4L449.2 375.4L446.2 369.6ZM433.5 392.2L439.5 392.2L436.5 386.5ZM419.7 358.1L425.7 358.1L422.7 352.3ZM420.7 345.6L426.7 345.6L423.7 339.8ZM444.7 169.0L450.7 169.0L447.7 163.3ZM415.9 246.5L421.9 246.5L418.9 240.8ZM443.6 263.9L449.6 263.9L446.6 258.1ZM131.0 259.4L137.0 259.4L134.0 253.7ZM85.5 286.4L91.5 286.4L88.5 280.6ZM168.0 310.4L174.0 310.4L171.0 304.6ZM282.5 248.8L288.5 248.8L285.5 243.2ZM282.0 308.9L288.0 308.9L285.0 303.1ZM317.5 322.9L323.5 322.9L320.5 317.1Z" fill="#000"/>
<path d="M196.3 371.8L202.3 371.8L199.3 366.1ZM108.4 395.4L114.4 395.4L111.4 389.7ZM270.6 358.5L276.6 358.5L273.6 352.8ZM260.6 361.4L266.6 361.4L263.6 355.7ZM96.1 394.5L102.1 394.5L99.1 388.8ZM114.7 390.1L120.7 390.1L117.7 384.4ZM231.6 365.4L237.6 365.4L234.6 359.7ZM161.1 373.1L167.1 373.1L164.1 367.4ZM302.6 358.7L308.6 358.7L305.6 353.0ZM221.8 364.7L227.8 364.7L224.8 359.0ZM424.7 327.0L430.7 327.0L427.7 321.3ZM184.4 372.6L190.4 372.6L187.4 366.9ZM133.5 384.3L139.5 384.3L136.5 378.6ZM368.6 345.1L374.6 345.1L371.6 339.4ZM146.3 374.4L152.3 374.4L149.3 368.7ZM213.3 365.0L219.3 365.0L216.3 359.3ZM274.7 359.6L280.7 359.6L277.7 353.9ZM155.1 376.0L161.1 376.0L158.1 370.3ZM321.1 350.2L327.1 350.2L324.1 344.5ZM287.9 357.9L293.9 357.9L290.9 352.2ZM241.6 361.8L247.6 361.8L244.6 356.1ZM327.6 356.6L333.6 356.6L330.6 350.9ZM168.4 369.9L174.4 369.9L171.4 364.2ZM389.3 334.8L395.3 334.8L392.3 329.1ZM338.3 347.9L344.3 347.9L341.3 342.2ZM124.3 394.0L130.3 394.0L127.3 388.3ZM229.3 365.1L235.3 365.1L232.3 359.4ZM254.1 359.9L260.1 359.9L257.1 354.2ZM96.7 392.8L102.7 392.8L99.7 387.1ZM283.6 352.9L289.6 352.9L286.6 347.2ZM389.4 334.6L395.4 334.6L392.4 328.9ZM291.0 360.6L297.0 360.6L294.0 354.9ZM286.0 351.5L292.0 351.5L289.0 345.8ZM413.6 328.8L419.6 328.8L416.6 323.1ZM248.9 361.9L254.9 361.9L251.9 356.2ZM328.5 350.5L334.5 350.5L331.5 344.8ZM309.5 359.7L315.5 359.7L312.5 354.0ZM182.6 370.9L188.6 370.9L185.6 365.2ZM218.0 366.1L224.0 366.1L221.0 360.4ZM244.6 362.5L250.6 362.5L247.6 356.8ZM141.8 380.4L147.8 380.4L144.8 374.7ZM351.9 348.0L357.9 348.0L354.9 342.3ZM128.3 384.4L134.3 384.4L131.3 378.7ZM388.0 339.9L394.0 339.9L391.0 334.2ZM111.2 387.3L117.2 387.3L114.2 381.6ZM392.2 336.5L398.2 336.5L395.2 330.8ZM369.7 344.6L375.7 344.6L372.7 338.9ZM228.4 363.3L234.4 363.3L231.4 357.6ZM208.6 373.3L214.6 373.3L211.6 367.6ZM135.8 376.6L141.8 376.6L138.8 370.9ZM144.7 378.9L150.7 378.9L147.7 373.2ZM252.7 364.0L258.7 364.0L255.7 358.3ZM289.2 356.6L295.2 356.6L292.2 350.9ZM229.6 365.2L235.6 365.2L232.6 359.5ZM212.2 360.4L218.2 360.4L215.2 354.7ZM324.7 349.0L330.7 349.0L327.7 343.3ZM263.4 356.9L269.4 356.9L266.4 351.2ZM101.9 390.8L107.9 390.8L104.9 385.1ZM397.8 334.6L403.8 334.6L400.8 328.9ZM362.3 339.3L368.3 339.3L365.3 333.6ZM220.3 365.0L226.3 365.0L223.3 359.3ZM305.0 355.5L311.0 355.5L308.0 349.8ZM104.8 394.8L110.8 394.8L107.8 389.1ZM139.8 381.1L145.8 381.1L142.8 375.4ZM202.0 368.6L208.0 368.6L205.0 362.9ZM135.9 381.6L141.9 381.6L138.9 375.9ZM118.5 387.7L124.5 387.7L121.5 382.0ZM389.0 337.0L395.0 337.0L392.0 331.3ZM297.9 356.9L303.9 356.9L300.9 351.2ZM204.6 370.0L210.6 370.0L207.6 364.3Z" fill="#000"/>
<path d="M154.5 160.0a1.05 1.05 0 1 0 2.1 0a1.05 1.05 0 1 0 -2.1 0ZM158.9 163.7a1.05 1.05 0 1 0 2.1 0a1.05 1.05 0 1 0 -2.1 0ZM163.1 148.5a1.05 1.05 0 1 0 2.1 0a1.05 1.05 0 1 0 -2.1 0ZM168.8 143.6a1.05 1.05 0 1 0 2.1 0a1.05 1.05 0 1 0 -2.1 0ZM169.9 151.1a1.05 1.05 0 1 0 2.1 0a1.05 1.05 0 1 0 -2.1 0ZM175.9 143.7a1.05 1.05 0 1 0 2.1 0a1.05 1.05 0 1 0 -2.1 0ZM168.3 157.8a1.05 1.05 0 1 0 2.1 0a1.05 1.05 0 1 0 -2.1 0ZM163.4 160.5a1.05 1.05 0 1 0 2.1 0a1.05 1.05 0 1 0 -2.1 0ZM163.9 163.5a1.05 1.05 0 1 0 2.1 0a1.05 1.05 0 1 0 -2.1 0ZM164.9 164.5a1.05 1.05 0 1 0 2.1 0a1.05 1.05 0 1 0 -2.1 0ZM164.5 166.4a1.05 1.05 0 1 0 2.1 0a1.05 1.05 0 1 0 -2.1 0ZM160.6 166.7a1.05 1.05 0 1 0 2.1 0a1.05 1.05 0 1 0 -2.1 0ZM169.3 164.2a1.05 1.05 0 1 0 2.1 0a1.05 1.05 0 1 0 -2.1 0ZM175.5 160.4a1.05 1.05 0 1 0 2.1 0a1.05 1.05 0 1 0 -2.1 0ZM178.0 154.6a1.05 1.05 0 1 0 2.1 0a1.05 1.05 0 1 0 -2.1 0ZM179.0 157.8a1.05 1.05 0 1 0 2.1 0a1.05 1.05 0 1 0 -2.1 0ZM180.2 155.4a1.05 1.05 0 1 0 2.1 0a1.05 1.05 0 1 0 -2.1 0ZM181.4 153.9a1.05 1.05 0 1 0 2.1 0a1.05 1.05 0 1 0 -2.1 0ZM180.8 157.1a1.05 1.05 0 1 0 2.1 0a1.05 1.05 0 1 0 -2.1 0ZM182.0 145.5a1.05 1.05 0 1 0 2.1 0a1.05 1.05 0 1 0 -2.1 0ZM181.6 157.6a1.05 1.05 0 1 0 2.1 0a1.05 1.05 0 1 0 -2.1 0ZM182.3 154.9a1.05 1.05 0 1 0 2.1 0a1.05 1.05 0 1 0 -2.1 0ZM167.9 173.4a1.05 1.05 0 1 0 2.1 0a1.05 1.05 0 1 0 -2.1 0ZM170.6 171.7a1.05 1.05 0 1 0 2.1 0a1.05 1.05 0 1 0 -2.1 0ZM172.1 174.6a1.05 1.05 0 1 0 2.1 0a1.05 1.05 0 1 0 -2.1 0ZM172.5 170.1a1.05 1.05 0 1 0 2.1 0a1.05 1.05 0 1 0 -2.1 0ZM173.8 174.4a1.05 1.05 0 1 0 2.1 0a1.05 1.05 0 1 0 -2.1 0ZM173.5 172.0a1.05 1.05 0 1 0 2.1 0a1.05 1.05 0 1 0 -2.1 0ZM176.2 173.4a1.05 1.05 0 1 0 2.1 0a1.05 1.05 0 1 0 -2.1 0ZM176.9 170.9a1.05 1.05 0 1 0 2.1 0a1.05 1.05 0 1 0 -2.1 0ZM176.8 168.8a1.05 1.05 0 1 0 2.1 0a1.05 1.05 0 1 0 -2.1 0ZM178.8 171.6a1.05 1.05 0 1 0 2.1 0a1.05 1.05 0 1 0 -2.1 0ZM179.2 172.0a1.05 1.05 0 1 0 2.1 0a1.05 1.05 0 1 0 -2.1 0ZM179.9 172.2a1.05 1.05 0 1 0 2.1 0a1.05 1.05 0 1 0 -2.1 0ZM179.1 166.4a1.05 1.05 0 1 0 2.1 0a1.05 1.05 0 1 0 -2.1 0ZM180.6 166.2a1.05 1.05 0 1 0 2.1 0a1.05 1.05 0 1 0 -2.1 0ZM181.4 170.7a1.05 1.05 0 1 0 2.1 0a1.05 1.05 0 1 0 -2.1 0ZM181.7 166.0a1.05 1.05 0 1 0 2.1 0a1.05 1.05 0 1 0 -2.1 0ZM182.2 165.0a1.05 1.05 0 1 0 2.1 0a1.05 1.05 0 1 0 -2.1 0ZM174.7 168.4a1.05 1.05 0 1 0 2.1 0a1.05 1.05 0 1 0 -2.1 0ZM153.4 172.9a1.05 1.05 0 1 0 2.1 0a1.05 1.05 0 1 0 -2.1 0ZM155.5 174.8a1.05 1.05 0 1 0 2.1 0a1.05 1.05 0 1 0 -2.1 0ZM157.6 172.4a1.05 1.05 0 1 0 2.1 0a1.05 1.05 0 1 0 -2.1 0ZM159.0 173.9a1.05 1.05 0 1 0 2.1 0a1.05 1.05 0 1 0 -2.1 0ZM159.9 176.8a1.05 1.05 0 1 0 2.1 0a1.05 1.05 0 1 0 -2.1 0ZM160.4 171.5a1.05 1.05 0 1 0 2.1 0a1.05 1.05 0 1 0 -2.1 0ZM160.9 173.9a1.05 1.05 0 1 0 2.1 0a1.05 1.05 0 1 0 -2.1 0ZM162.6 170.1a1.05 1.05 0 1 0 2.1 0a1.05 1.05 0 1 0 -2.1 0ZM162.1 174.6a1.05 1.05 0 1 0 2.1 0a1.05 1.05 0 1 0 -2.1 0ZM152.3 176.3a1.05 1.05 0 1 0 2.1 0a1.05 1.05 0 1 0 -2.1 0ZM156.0 176.2a1.05 1.05 0 1 0 2.1 0a1.05 1.05 0 1 0 -2.1 0ZM153.7 177.0a1.05 1.05 0 1 0 2.1 0a1.05 1.05 0 1 0 -2.1 0ZM158.1 176.0a1.05 1.05 0 1 0 2.1 0a1.05 1.05 0 1 0 -2.1 0ZM163.4 173.4a1.05 1.05 0 1 0 2.1 0a1.05 1.05 0 1 0 -2.1 0ZM165.0 172.4a1.05 1.05 0 1 0 2.1 0a1.05 1.05 0 1 0 -2.1 0ZM162.2 169.8a1.05 1.05 0 1 0 2.1 0a1.05 1.05 0 1 0 -2.1 0ZM160.4 171.0a1.05 1.05 0 1 0 2.1 0a1.05 1.05 0 1 0 -2.1 0ZM158.0 172.4a1.05 1.05 0 1 0 2.1 0a1.05 1.05 0 1 0 -2.1 0ZM153.9 172.8a1.05 1.05 0 1 0 2.1 0a1.05 1.05 0 1 0 -2.1 0ZM162.1 174.9a1.05 1.05 0 1 0 2.1 0a1.05 1.05 0 1 0 -2.1 0ZM159.5 177.6a1.05 1.05 0 1 0 2.1 0a1.05 1.05 0 1 0 -2.1 0ZM167.4 173.9a1.05 1.05 0 1 0 2.1 0a1.05 1.05 0 1 0 -2.1 0ZM171.5 175.4a1.05 1.05 0 1 0 2.1 0a1.05 1.05 0 1 0 -2.1 0ZM170.1 171.7a1.05 1.05 0 1 0 2.1 0a1.05 1.05 0 1 0 -2.1 0ZM172.1 169.5a1.05 1.05 0 1 0 2.1 0a1.05 1.05 0 1 0 -2.1 0ZM177.7 166.1a1.05 1.05 0 1 0 2.1 0a1.05 1.05 0 1 0 -2.1 0ZM177.3 168.1a1.05 1.05 0 1 0 2.1 0a1.05 1.05 0 1 0 -2.1 0ZM177.2 169.7a1.05 1.05 0 1 0 2.1 0a1.05 1.05 0 1 0 -2.1 0ZM176.6 171.8a1.05 1.05 0 1 0 2.1 0a1.05 1.05 0 1 0 -2.1 0ZM182.9 144.5a1.05 1.05 0 1 0 2.1 0a1.05 1.05 0 1 0 -2.1 0ZM182.1 145.9a1.05 1.05 0 1 0 2.1 0a1.05 1.05 0 1 0 -2.1 0ZM184.4 147.8a1.05 1.05 0 1 0 2.1 0a1.05 1.05 0 1 0 -2.1 0ZM183.8 150.5a1.05 1.05 0 1 0 2.1 0a1.05 1.05 0 1 0 -2.1 0ZM184.7 152.4a1.05 1.05 0 1 0 2.1 0a1.05 1.05 0 1 0 -2.1 0ZM184.4 154.8a1.05 1.05 0 1 0 2.1 0a1.05 1.05 0 1 0 -2.1 0ZM183.0 153.4a1.05 1.05 0 1 0 2.1 0a1.05 1.05 0 1 0 -2.1 0ZM184.7 155.3a1.05 1.05 0 1 0 2.1 0a1.05 1.05 0 1 0 -2.1 0ZM186.3 149.9a1.05 1.05 0 1 0 2.1 0a1.05 1.05 0 1 0 -2.1 0ZM186.2 154.7a1.05 1.05 0 1 0 2.1 0a1.05 1.05 0 1 0 -2.1 0ZM188.2 153.8a1.05 1.05 0 1 0 2.1 0a1.05 1.05 0 1 0 -2.1 0ZM188.7 147.2a1.05 1.05 0 1 0 2.1 0a1.05 1.05 0 1 0 -2.1 0ZM189.0 151.8a1.05 1.05 0 1 0 2.1 0a1.05 1.05 0 1 0 -2.1 0ZM190.0 152.8a1.05 1.05 0 1 0 2.1 0a1.05 1.05 0 1 0 -2.1 0ZM190.7 141.1a1.05 1.05 0 1 0 2.1 0a1.05 1.05 0 1 0 -2.1 0ZM190.7 152.3a1.05 1.05 0 1 0 2.1 0a1.05 1.05 0 1 0 -2.1 0ZM192.4 150.4a1.05 1.05 0 1 0 2.1 0a1.05 1.05 0 1 0 -2.1 0ZM192.4 142.2a1.05 1.05 0 1 0 2.1 0a1.05 1.05 0 1 0 -2.1 0ZM193.9 141.5a1.05 1.05 0 1 0 2.1 0a1.05 1.05 0 1 0 -2.1 0ZM194.8 140.3a1.05 1.05 0 1 0 2.1 0a1.05 1.05 0 1 0 -2.1 0ZM193.9 147.0a1.05 1.05 0 1 0 2.1 0a1.05 1.05 0 1 0 -2.1 0ZM194.9 143.5a1.05 1.05 0 1 0 2.1 0a1.05 1.05 0 1 0 -2.1 0ZM194.3 149.0a1.05 1.05 0 1 0 2.1 0a1.05 1.05 0 1 0 -2.1 0ZM193.7 151.1a1.05 1.05 0 1 0 2.1 0a1.05 1.05 0 1 0 -2.1 0ZM192.6 152.8a1.05 1.05 0 1 0 2.1 0a1.05 1.05 0 1 0 -2.1 0ZM183.2 171.3a1.05 1.05 0 1 0 2.1 0a1.05 1.05 0 1 0 -2.1 0ZM184.2 171.2a1.05 1.05 0 1 0 2.1 0a1.05 1.05 0 1 0 -2.1 0ZM182.7 168.2a1.05 1.05 0 1 0 2.1 0a1.05 1.05 0 1 0 -2.1 0ZM183.3 164.8a1.05 1.05 0 1 0 2.1 0a1.05 1.05 0 1 0 -2.1 0ZM183.8 166.3a1.05 1.05 0 1 0 2.1 0a1.05 1.05 0 1 0 -2.1 0ZM182.7 163.9a1.05 1.05 0 1 0 2.1 0a1.05 1.05 0 1 0 -2.1 0ZM185.1 167.8a1.05 1.05 0 1 0 2.1 0a1.05 1.05 0 1 0 -2.1 0ZM186.2 166.7a1.05 1.05 0 1 0 2.1 0a1.05 1.05 0 1 0 -2.1 0ZM186.5 168.7a1.05 1.05 0 1 0 2.1 0a1.05 1.05 0 1 0 -2.1 0ZM187.1 166.5a1.05 1.05 0 1 0 2.1 0a1.05 1.05 0 1 0 -2.1 0ZM185.9 163.8a1.05 1.05 0 1 0 2.1 0a1.05 1.05 0 1 0 -2.1 0ZM187.3 163.2a1.05 1.05 0 1 0 2.1 0a1.05 1.05 0 1 0 -2.1 0ZM187.8 166.2a1.05 1.05 0 1 0 2.1 0a1.05 1.05 0 1 0 -2.1 0ZM188.1 164.3a1.05 1.05 0 1 0 2.1 0a1.05 1.05 0 1 0 -2.1 0ZM188.5 161.9a1.05 1.05 0 1 0 2.1 0a1.05 1.05 0 1 0 -2.1 0ZM189.2 171.3a1.05 1.05 0 1 0 2.1 0a1.05 1.05 0 1 0 -2.1 0ZM189.1 162.3a1.05 1.05 0 1 0 2.1 0a1.05 1.05 0 1 0 -2.1 0ZM189.9 166.4a1.05 1.05 0 1 0 2.1 0a1.05 1.05 0 1 0 -2.1 0ZM190.8 169.1a1.05 1.05 0 1 0 2.1 0a1.05 1.05 0 1 0 -2.1 0ZM190.9 162.4a1.05 1.05 0 1 0 2.1 0a1.05 1.05 0 1 0 -2.1 0ZM191.0 160.9a1.05 1.05 0 1 0 2.1 0a1.05 1.05 0 1 0 -2.1 0ZM193.1 168.3a1.05 1.05 0 1 0 2.1 0a1.05 1.05 0 1 0 -2.1 0ZM193.0 166.4a1.05 1.05 0 1 0 2.1 0a1.05 1.05 0 1 0 -2.1 0ZM193.0 162.3a1.05 1.05 0 1 0 2.1 0a1.05 1.05 0 1 0 -2.1 0ZM194.0 165.7a1.05 1.05 0 1 0 2.1 0a1.05 1.05 0 1 0 -2.1 0ZM195.4 168.1a1.05 1.05 0 1 0 2.1 0a1.05 1.05 0 1 0 -2.1 0ZM189.1 160.0a1.05 1.05 0 1 0 2.1 0a1.05 1.05 0 1 0 -2.1 0ZM190.7 159.8a1.05 1.05 0 1 0 2.1 0a1.05 1.05 0 1 0 -2.1 0ZM185.8 161.0a1.05 1.05 0 1 0 2.1 0a1.05 1.05 0 1 0 -2.1 0ZM184.7 160.3a1.05 1.05 0 1 0 2.1 0a1.05 1.05 0 1 0 -2.1 0ZM184.0 161.0a1.05 1.05 0 1 0 2.1 0a1.05 1.05 0 1 0 -2.1 0ZM193.4 158.4a1.05 1.05 0 1 0 2.1 0a1.05 1.05 0 1 0 -2.1 0ZM192.1 157.5a1.05 1.05 0 1 0 2.1 0a1.05 1.05 0 1 0 -2.1 0ZM182.5 164.0a1.05 1.05 0 1 0 2.1 0a1.05 1.05 0 1 0 -2.1 0ZM183.4 164.2a1.05 1.05 0 1 0 2.1 0a1.05 1.05 0 1 0 -2.1 0ZM183.4 165.4a1.05 1.05 0 1 0 2.1 0a1.05 1.05 0 1 0 -2.1 0ZM182.9 167.9a1.05 1.05 0 1 0 2.1 0a1.05 1.05 0 1 0 -2.1 0ZM182.7 170.3a1.05 1.05 0 1 0 2.1 0a1.05 1.05 0 1 0 -2.1 0ZM184.2 171.1a1.05 1.05 0 1 0 2.1 0a1.05 1.05 0 1 0 -2.1 0ZM185.8 166.1a1.05 1.05 0 1 0 2.1 0a1.05 1.05 0 1 0 -2.1 0ZM185.1 167.6a1.05 1.05 0 1 0 2.1 0a1.05 1.05 0 1 0 -2.1 0ZM186.0 163.2a1.05 1.05 0 1 0 2.1 0a1.05 1.05 0 1 0 -2.1 0ZM185.8 166.0a1.05 1.05 0 1 0 2.1 0a1.05 1.05 0 1 0 -2.1 0ZM186.7 167.0a1.05 1.05 0 1 0 2.1 0a1.05 1.05 0 1 0 -2.1 0ZM187.2 169.2a1.05 1.05 0 1 0 2.1 0a1.05 1.05 0 1 0 -2.1 0ZM187.0 163.1a1.05 1.05 0 1 0 2.1 0a1.05 1.05 0 1 0 -2.1 0ZM187.9 165.6a1.05 1.05 0 1 0 2.1 0a1.05 1.05 0 1 0 -2.1 0ZM188.1 162.5a1.05 1.05 0 1 0 2.1 0a1.05 1.05 0 1 0 -2.1 0ZM189.0 170.5a1.05 1.05 0 1 0 2.1 0a1.05 1.05 0 1 0 -2.1 0ZM189.0 162.2a1.05 1.05 0 1 0 2.1 0a1.05 1.05 0 1 0 -2.1 0ZM189.5 166.2a1.05 1.05 0 1 0 2.1 0a1.05 1.05 0 1 0 -2.1 0ZM190.1 161.1a1.05 1.05 0 1 0 2.1 0a1.05 1.05 0 1 0 -2.1 0ZM190.5 169.2a1.05 1.05 0 1 0 2.1 0a1.05 1.05 0 1 0 -2.1 0ZM186.8 163.4a1.05 1.05 0 1 0 2.1 0a1.05 1.05 0 1 0 -2.1 0ZM187.2 162.2a1.05 1.05 0 1 0 2.1 0a1.05 1.05 0 1 0 -2.1 0ZM187.5 160.9a1.05 1.05 0 1 0 2.1 0a1.05 1.05 0 1 0 -2.1 0ZM187.6 159.6a1.05 1.05 0 1 0 2.1 0a1.05 1.05 0 1 0 -2.1 0ZM188.2 162.4a1.05 1.05 0 1 0 2.1 0a1.05 1.05 0 1 0 -2.1 0ZM188.9 160.5a1.05 1.05 0 1 0 2.1 0a1.05 1.05 0 1 0 -2.1 0ZM189.0 158.4a1.05 1.05 0 1 0 2.1 0a1.05 1.05 0 1 0 -2.1 0ZM188.8 162.4a1.05 1.05 0 1 0 2.1 0a1.05 1.05 0 1 0 -2.1 0ZM189.7 160.1a1.05 1.05 0 1 0 2.1 0a1.05 1.05 0 1 0 -2.1 0ZM189.8 157.9a1.05 1.05 0 1 0 2.1 0a1.05 1.05 0 1 0 -2.1 0ZM181.8 157.3a1.05 1.05 0 1 0 2.1 0a1.05 1.05 0 1 0 -2.1 0ZM184.1 157.9a1.05 1.05 0 1 0 2.1 0a1.05 1.05 0 1 0 -2.1 0ZM186.3 156.8a1.05 1.05 0 1 0 2.1 0a1.05 1.05 0 1 0 -2.1 0ZM182.7 162.2a1.05 1.05 0 1 0 2.1 0a1.05 1.05 0 1 0 -2.1 0ZM183.3 161.6a1.05 1.05 0 1 0 2.1 0a1.05 1.05 0 1 0 -2.1 0ZM183.6 160.9a1.05 1.05 0 1 0 2.1 0a1.05 1.05 0 1 0 -2.1 0ZM184.2 160.6a1.05 1.05 0 1 0 2.1 0a1.05 1.05 0 1 0 -2.1 0ZM184.8 161.7a1.05 1.05 0 1 0 2.1 0a1.05 1.05 0 1 0 -2.1 0ZM185.8 160.2a1.05 1.05 0 1 0 2.1 0a1.05 1.05 0 1 0 -2.1 0ZM186.5 160.5a1.05 1.05 0 1 0 2.1 0a1.05 1.05 0 1 0 -2.1 0ZM187.8 159.3a1.05 1.05 0 1 0 2.1 0a1.05 1.05 0 1 0 -2.1 0ZM190.2 159.0a1.05 1.05 0 1 0 2.1 0a1.05 1.05 0 1 0 -2.1 0ZM196.6 129.5a1.05 1.05 0 1 0 2.1 0a1.05 1.05 0 1 0 -2.1 0ZM201.0 136.5a1.05 1.05 0 1 0 2.1 0a1.05 1.05 0 1 0 -2.1 0ZM195.3 140.3a1.05 1.05 0 1 0 2.1 0a1.05 1.05 0 1 0 -2.1 0ZM194.6 143.3a1.05 1.05 0 1 0 2.1 0a1.05 1.05 0 1 0 -2.1 0ZM198.1 142.8a1.05 1.05 0 1 0 2.1 0a1.05 1.05 0 1 0 -2.1 0ZM196.6 146.5a1.05 1.05 0 1 0 2.1 0a1.05 1.05 0 1 0 -2.1 0ZM194.9 148.9a1.05 1.05 0 1 0 2.1 0a1.05 1.05 0 1 0 -2.1 0ZM196.3 150.4a1.05 1.05 0 1 0 2.1 0a1.05 1.05 0 1 0 -2.1 0ZM198.0 150.3a1.05 1.05 0 1 0 2.1 0a1.05 1.05 0 1 0 -2.1 0ZM199.6 146.0a1.05 1.05 0 1 0 2.1 0a1.05 1.05 0 1 0 -2.1 0ZM200.2 144.5a1.05 1.05 0 1 0 2.1 0a1.05 1.05 0 1 0 -2.1 0ZM201.1 144.6a1.05 1.05 0 1 0 2.1 0a1.05 1.05 0 1 0 -2.1 0ZM200.8 148.7a1.05 1.05 0 1 0 2.1 0a1.05 1.05 0 1 0 -2.1 0ZM201.4 147.3a1.05 1.05 0 1 0 2.1 0a1.05 1.05 0 1 0 -2.1 0ZM203.1 144.6a1.05 1.05 0 1 0 2.1 0a1.05 1.05 0 1 0 -2.1 0ZM204.0 143.2a1.05 1.05 0 1 0 2.1 0a1.05 1.05 0 1 0 -2.1 0ZM203.7 147.0a1.05 1.05 0 1 0 2.1 0a1.05 1.05 0 1 0 -2.1 0ZM202.8 147.7a1.05 1.05 0 1 0 2.1 0a1.05 1.05 0 1 0 -2.1 0ZM205.7 146.1a1.05 1.05 0 1 0 2.1 0a1.05 1.05 0 1 0 -2.1 0ZM207.9 141.9a1.05 1.05 0 1 0 2.1 0a1.05 1.05 0 1 0 -2.1 0ZM208.3 140.3a1.05 1.05 0 1 0 2.1 0a1.05 1.05 0 1 0 -2.1 0ZM210.3 143.7a1.05 1.05 0 1 0 2.1 0a1.05 1.05 0 1 0 -2.1 0ZM195.3 166.8a1.05 1.05 0 1 0 2.1 0a1.05 1.05 0 1 0 -2.1 0ZM194.9 169.2a1.05 1.05 0 1 0 2.1 0a1.05 1.05 0 1 0 -2.1 0ZM195.3 166.0a1.05 1.05 0 1 0 2.1 0a1.05 1.05 0 1 0 -2.1 0ZM194.9 168.0a1.05 1.05 0 1 0 2.1 0a1.05 1.05 0 1 0 -2.1 0ZM195.8 162.0a1.05 1.05 0 1 0 2.1 0a1.05 1.05 0 1 0 -2.1 0ZM196.0 156.7a1.05 1.05 0 1 0 2.1 0a1.05 1.05 0 1 0 -2.1 0ZM197.3 165.6a1.05 1.05 0 1 0 2.1 0a1.05 1.05 0 1 0 -2.1 0ZM196.9 163.2a1.05 1.05 0 1 0 2.1 0a1.05 1.05 0 1 0 -2.1 0ZM197.3 160.1a1.05 1.05 0 1 0 2.1 0a1.05 1.05 0 1 0 -2.1 0ZM197.0 155.5a1.05 1.05 0 1 0 2.1 0a1.05 1.05 0 1 0 -2.1 0ZM198.0 166.6a1.05 1.05 0 1 0 2.1 0a1.05 1.05 0 1 0 -2.1 0ZM197.8 161.1a1.05 1.05 0 1 0 2.1 0a1.05 1.05 0 1 0 -2.1 0ZM199.4 159.2a1.05 1.05 0 1 0 2.1 0a1.05 1.05 0 1 0 -2.1 0ZM199.4 155.1a1.05 1.05 0 1 0 2.1 0a1.05 1.05 0 1 0 -2.1 0ZM200.8 158.7a1.05 1.05 0 1 0 2.1 0a1.05 1.05 0 1 0 -2.1 0ZM200.9 156.6a1.05 1.05 0 1 0 2.1 0a1.05 1.05 0 1 0 -2.1 0ZM201.8 157.3a1.05 1.05 0 1 0 2.1 0a1.05 1.05 0 1 0 -2.1 0ZM201.0 163.4a1.05 1.05 0 1 0 2.1 0a1.05 1.05 0 1 0 -2.1 0ZM201.9 162.5a1.05 1.05 0 1 0 2.1 0a1.05 1.05 0 1 0 -2.1 0ZM202.1 163.6a1.05 1.05 0 1 0 2.1 0a1.05 1.05 0 1 0 -2.1 0ZM201.8 166.1a1.05 1.05 0 1 0 2.1 0a1.05 1.05 0 1 0 -2.1 0ZM202.0 155.2a1.05 1.05 0 1 0 2.1 0a1.05 1.05 0 1 0 -2.1 0ZM203.1 160.7a1.05 1.05 0 1 0 2.1 0a1.05 1.05 0 1 0 -2.1 0ZM203.8 157.3a1.05 1.05 0 1 0 2.1 0a1.05 1.05 0 1 0 -2.1 0ZM204.3 160.1a1.05 1.05 0 1 0 2.1 0a1.05 1.05 0 1 0 -2.1 0ZM205.4 167.7a1.05 1.05 0 1 0 2.1 0a1.05 1.05 0 1 0 -2.1 0ZM206.1 163.1a1.05 1.05 0 1 0 2.1 0a1.05 1.05 0 1 0 -2.1 0ZM206.1 158.7a1.05 1.05 0 1 0 2.1 0a1.05 1.05 0 1 0 -2.1 0ZM206.9 160.5a1.05 1.05 0 1 0 2.1 0a1.05 1.05 0 1 0 -2.1 0ZM207.9 160.2a1.05 1.05 0 1 0 2.1 0a1.05 1.05 0 1 0 -2.1 0ZM209.3 160.2a1.05 1.05 0 1 0 2.1 0a1.05 1.05 0 1 0 -2.1 0ZM207.7 153.0a1.05 1.05 0 1 0 2.1 0a1.05 1.05 0 1 0 -2.1 0ZM206.4 151.2a1.05 1.05 0 1 0 2.1 0a1.05 1.05 0 1 0 -2.1 0ZM208.7 150.8a1.05 1.05 0 1 0 2.1 0a1.05 1.05 0 1 0 -2.1 0ZM209.7 152.8a1.05 1.05 0 1 0 2.1 0a1.05 1.05 0 1 0 -2.1 0ZM204.8 152.6a1.05 1.05 0 1 0 2.1 0a1.05 1.05 0 1 0 -2.1 0ZM198.7 158.3a1.05 1.05 0 1 0 2.1 0a1.05 1.05 0 1 0 -2.1 0ZM198.8 156.8a1.05 1.05 0 1 0 2.1 0a1.05 1.05 0 1 0 -2.1 0ZM199.1 155.2a1.05 1.05 0 1 0 2.1 0a1.05 1.05 0 1 0 -2.1 0ZM197.8 158.9a1.05 1.05 0 1 0 2.1 0a1.05 1.05 0 1 0 -2.1 0ZM198.2 157.8a1.05 1.05 0 1 0 2.1 0a1.05 1.05 0 1 0 -2.1 0ZM198.8 155.8a1.05 1.05 0 1 0 2.1 0a1.05 1.05 0 1 0 -2.1 0ZM199.4 154.7a1.05 1.05 0 1 0 2.1 0a1.05 1.05 0 1 0 -2.1 0ZM199.6 159.2a1.05 1.05 0 1 0 2.1 0a1.05 1.05 0 1 0 -2.1 0ZM199.6 157.3a1.05 1.05 0 1 0 2.1 0a1.05 1.05 0 1 0 -2.1 0ZM199.9 155.5a1.05 1.05 0 1 0 2.1 0a1.05 1.05 0 1 0 -2.1 0ZM200.0 153.8a1.05 1.05 0 1 0 2.1 0a1.05 1.05 0 1 0 -2.1 0ZM202.5 153.4a1.05 1.05 0 1 0 2.1 0a1.05 1.05 0 1 0 -2.1 0ZM203.6 147.6a1.05 1.05 0 1 0 2.1 0a1.05 1.05 0 1 0 -2.1 0ZM203.8 147.3a1.05 1.05 0 1 0 2.1 0a1.05 1.05 0 1 0 -2.1 0ZM204.6 148.6a1.05 1.05 0 1 0 2.1 0a1.05 1.05 0 1 0 -2.1 0ZM205.1 146.1a1.05 1.05 0 1 0 2.1 0a1.05 1.05 0 1 0 -2.1 0ZM206.0 148.5a1.05 1.05 0 1 0 2.1 0a1.05 1.05 0 1 0 -2.1 0ZM206.4 149.9a1.05 1.05 0 1 0 2.1 0a1.05 1.05 0 1 0 -2.1 0ZM207.5 149.2a1.05 1.05 0 1 0 2.1 0a1.05 1.05 0 1 0 -2.1 0ZM207.8 149.9a1.05 1.05 0 1 0 2.1 0a1.05 1.05 0 1 0 -2.1 0ZM208.3 150.8a1.05 1.05 0 1 0 2.1 0a1.05 1.05 0 1 0 -2.1 0ZM205.5 152.1a1.05 1.05 0 1 0 2.1 0a1.05 1.05 0 1 0 -2.1 0ZM205.1 153.6a1.05 1.05 0 1 0 2.1 0a1.05 1.05 0 1 0 -2.1 0ZM206.3 153.0a1.05 1.05 0 1 0 2.1 0a1.05 1.05 0 1 0 -2.1 0ZM208.1 152.5a1.05 1.05 0 1 0 2.1 0a1.05 1.05 0 1 0 -2.1 0ZM210.1 152.2a1.05 1.05 0 1 0 2.1 0a1.05 1.05 0 1 0 -2.1 0ZM211.1 152.8a1.05 1.05 0 1 0 2.1 0a1.05 1.05 0 1 0 -2.1 0ZM212.7 152.7a1.05 1.05 0 1 0 2.1 0a1.05 1.05 0 1 0 -2.1 0ZM212.0 154.5a1.05 1.05 0 1 0 2.1 0a1.05 1.05 0 1 0 -2.1 0ZM210.7 155.9a1.05 1.05 0 1 0 2.1 0a1.05 1.05 0 1 0 -2.1 0ZM212.4 155.4a1.05 1.05 0 1 0 2.1 0a1.05 1.05 0 1 0 -2.1 0ZM210.0 157.2a1.05 1.05 0 1 0 2.1 0a1.05 1.05 0 1 0 -2.1 0ZM210.7 157.6a1.05 1.05 0 1 0 2.1 0a1.05 1.05 0 1 0 -2.1 0ZM214.9 151.5a1.05 1.05 0 1 0 2.1 0a1.05 1.05 0 1 0 -2.1 0ZM216.1 149.9a1.05 1.05 0 1 0 2.1 0a1.05 1.05 0 1 0 -2.1 0ZM217.8 150.0a1.05 1.05 0 1 0 2.1 0a1.05 1.05 0 1 0 -2.1 0ZM220.4 150.7a1.05 1.05 0 1 0 2.1 0a1.05 1.05 0 1 0 -2.1 0ZM214.2 155.9a1.05 1.05 0 1 0 2.1 0a1.05 1.05 0 1 0 -2.1 0ZM216.1 154.8a1.05 1.05 0 1 0 2.1 0a1.05 1.05 0 1 0 -2.1 0ZM217.7 154.0a1.05 1.05 0 1 0 2.1 0a1.05 1.05 0 1 0 -2.1 0ZM218.7 156.1a1.05 1.05 0 1 0 2.1 0a1.05 1.05 0 1 0 -2.1 0ZM214.9 157.6a1.05 1.05 0 1 0 2.1 0a1.05 1.05 0 1 0 -2.1 0ZM213.7 159.9a1.05 1.05 0 1 0 2.1 0a1.05 1.05 0 1 0 -2.1 0ZM219.7 158.8a1.05 1.05 0 1 0 2.1 0a1.05 1.05 0 1 0 -2.1 0ZM221.5 160.7a1.05 1.05 0 1 0 2.1 0a1.05 1.05 0 1 0 -2.1 0ZM220.7 120.6a1.05 1.05 0 1 0 2.1 0a1.05 1.05 0 1 0 -2.1 0ZM217.5 123.9a1.05 1.05 0 1 0 2.1 0a1.05 1.05 0 1 0 -2.1 0ZM261.1 128.2a1.05 1.05 0 1 0 2.1 0a1.05 1.05 0 1 0 -2.1 0ZM225.1 133.6a1.05 1.05 0 1 0 2.1 0a1.05 1.05 0 1 0 -2.1 0ZM227.0 134.0a1.05 1.05 0 1 0 2.1 0a1.05 1.05 0 1 0 -2.1 0ZM251.0 137.2a1.05 1.05 0 1 0 2.1 0a1.05 1.05 0 1 0 -2.1 0ZM232.8 139.8a1.05 1.05 0 1 0 2.1 0a1.05 1.05 0 1 0 -2.1 0ZM253.6 140.6a1.05 1.05 0 1 0 2.1 0a1.05 1.05 0 1 0 -2.1 0ZM280.3 141.3a1.05 1.05 0 1 0 2.1 0a1.05 1.05 0 1 0 -2.1 0ZM209.0 140.1a1.05 1.05 0 1 0 2.1 0a1.05 1.05 0 1 0 -2.1 0ZM210.6 142.7a1.05 1.05 0 1 0 2.1 0a1.05 1.05 0 1 0 -2.1 0ZM228.6 142.9a1.05 1.05 0 1 0 2.1 0a1.05 1.05 0 1 0 -2.1 0ZM242.8 145.2a1.05 1.05 0 1 0 2.1 0a1.05 1.05 0 1 0 -2.1 0ZM238.0 146.9a1.05 1.05 0 1 0 2.1 0a1.05 1.05 0 1 0 -2.1 0ZM233.1 146.2a1.05 1.05 0 1 0 2.1 0a1.05 1.05 0 1 0 -2.1 0ZM231.0 148.1a1.05 1.05 0 1 0 2.1 0a1.05 1.05 0 1 0 -2.1 0ZM225.4 145.9a1.05 1.05 0 1 0 2.1 0a1.05 1.05 0 1 0 -2.1 0ZM222.9 147.2a1.05 1.05 0 1 0 2.1 0a1.05 1.05 0 1 0 -2.1 0ZM219.7 145.1a1.05 1.05 0 1 0 2.1 0a1.05 1.05 0 1 0 -2.1 0ZM216.9 146.0a1.05 1.05 0 1 0 2.1 0a1.05 1.05 0 1 0 -2.1 0ZM213.7 147.6a1.05 1.05 0 1 0 2.1 0a1.05 1.05 0 1 0 -2.1 0ZM254.9 150.0a1.05 1.05 0 1 0 2.1 0a1.05 1.05 0 1 0 -2.1 0ZM227.1 150.2a1.05 1.05 0 1 0 2.1 0a1.05 1.05 0 1 0 -2.1 0ZM224.5 150.5a1.05 1.05 0 1 0 2.1 0a1.05 1.05 0 1 0 -2.1 0ZM220.3 151.1a1.05 1.05 0 1 0 2.1 0a1.05 1.05 0 1 0 -2.1 0ZM218.6 149.7a1.05 1.05 0 1 0 2.1 0a1.05 1.05 0 1 0 -2.1 0ZM216.0 149.8a1.05 1.05 0 1 0 2.1 0a1.05 1.05 0 1 0 -2.1 0ZM213.2 149.0a1.05 1.05 0 1 0 2.1 0a1.05 1.05 0 1 0 -2.1 0ZM215.1 152.0a1.05 1.05 0 1 0 2.1 0a1.05 1.05 0 1 0 -2.1 0ZM212.4 152.4a1.05 1.05 0 1 0 2.1 0a1.05 1.05 0 1 0 -2.1 0ZM210.6 152.2a1.05 1.05 0 1 0 2.1 0a1.05 1.05 0 1 0 -2.1 0ZM209.4 152.4a1.05 1.05 0 1 0 2.1 0a1.05 1.05 0 1 0 -2.1 0ZM228.2 152.3a1.05 1.05 0 1 0 2.1 0a1.05 1.05 0 1 0 -2.1 0ZM226.7 152.9a1.05 1.05 0 1 0 2.1 0a1.05 1.05 0 1 0 -2.1 0ZM231.8 153.8a1.05 1.05 0 1 0 2.1 0a1.05 1.05 0 1 0 -2.1 0ZM235.1 153.5a1.05 1.05 0 1 0 2.1 0a1.05 1.05 0 1 0 -2.1 0ZM252.8 154.9a1.05 1.05 0 1 0 2.1 0a1.05 1.05 0 1 0 -2.1 0ZM222.8 155.5a1.05 1.05 0 1 0 2.1 0a1.05 1.05 0 1 0 -2.1 0ZM217.6 154.8a1.05 1.05 0 1 0 2.1 0a1.05 1.05 0 1 0 -2.1 0ZM216.4 155.2a1.05 1.05 0 1 0 2.1 0a1.05 1.05 0 1 0 -2.1 0ZM214.2 156.2a1.05 1.05 0 1 0 2.1 0a1.05 1.05 0 1 0 -2.1 0ZM212.5 155.2a1.05 1.05 0 1 0 2.1 0a1.05 1.05 0 1 0 -2.1 0ZM210.8 156.3a1.05 1.05 0 1 0 2.1 0a1.05 1.05 0 1 0 -2.1 0ZM209.7 157.4a1.05 1.05 0 1 0 2.1 0a1.05 1.05 0 1 0 -2.1 0ZM224.0 157.5a1.05 1.05 0 1 0 2.1 0a1.05 1.05 0 1 0 -2.1 0ZM225.8 156.4a1.05 1.05 0 1 0 2.1 0a1.05 1.05 0 1 0 -2.1 0ZM244.8 157.3a1.05 1.05 0 1 0 2.1 0a1.05 1.05 0 1 0 -2.1 0ZM238.2 159.0a1.05 1.05 0 1 0 2.1 0a1.05 1.05 0 1 0 -2.1 0ZM235.5 160.4a1.05 1.05 0 1 0 2.1 0a1.05 1.05 0 1 0 -2.1 0ZM233.7 162.2a1.05 1.05 0 1 0 2.1 0a1.05 1.05 0 1 0 -2.1 0ZM251.4 158.6a1.05 1.05 0 1 0 2.1 0a1.05 1.05 0 1 0 -2.1 0ZM220.2 158.3a1.05 1.05 0 1 0 2.1 0a1.05 1.05 0 1 0 -2.1 0ZM221.7 160.0a1.05 1.05 0 1 0 2.1 0a1.05 1.05 0 1 0 -2.1 0ZM221.4 161.3a1.05 1.05 0 1 0 2.1 0a1.05 1.05 0 1 0 -2.1 0ZM213.6 159.9a1.05 1.05 0 1 0 2.1 0a1.05 1.05 0 1 0 -2.1 0ZM211.3 159.5a1.05 1.05 0 1 0 2.1 0a1.05 1.05 0 1 0 -2.1 0ZM209.5 160.3a1.05 1.05 0 1 0 2.1 0a1.05 1.05 0 1 0 -2.1 0ZM213.5 164.7a1.05 1.05 0 1 0 2.1 0a1.05 1.05 0 1 0 -2.1 0ZM218.1 164.7a1.05 1.05 0 1 0 2.1 0a1.05 1.05 0 1 0 -2.1 0ZM219.3 165.4a1.05 1.05 0 1 0 2.1 0a1.05 1.05 0 1 0 -2.1 0ZM220.6 168.2a1.05 1.05 0 1 0 2.1 0a1.05 1.05 0 1 0 -2.1 0ZM280.6 163.3a1.05 1.05 0 1 0 2.1 0a1.05 1.05 0 1 0 -2.1 0ZM239.6 172.5a1.05 1.05 0 1 0 2.1 0a1.05 1.05 0 1 0 -2.1 0ZM228.6 154.3a1.05 1.05 0 1 0 2.1 0a1.05 1.05 0 1 0 -2.1 0ZM229.0 148.1a1.05 1.05 0 1 0 2.1 0a1.05 1.05 0 1 0 -2.1 0ZM308.8 56.7a1.05 1.05 0 1 0 2.1 0a1.05 1.05 0 1 0 -2.1 0ZM227.4 97.0a1.05 1.05 0 1 0 2.1 0a1.05 1.05 0 1 0 -2.1 0ZM283.5 105.4a1.05 1.05 0 1 0 2.1 0a1.05 1.05 0 1 0 -2.1 0ZM171.1 103.3a1.05 1.05 0 1 0 2.1 0a1.05 1.05 0 1 0 -2.1 0ZM155.2 117.3a1.05 1.05 0 1 0 2.1 0a1.05 1.05 0 1 0 -2.1 0ZM181.1 129.7a1.05 1.05 0 1 0 2.1 0a1.05 1.05 0 1 0 -2.1 0ZM196.7 98.0a1.05 1.05 0 1 0 2.1 0a1.05 1.05 0 1 0 -2.1 0ZM196.8 129.2a1.05 1.05 0 1 0 2.1 0a1.05 1.05 0 1 0 -2.1 0ZM201.0 136.1a1.05 1.05 0 1 0 2.1 0a1.05 1.05 0 1 0 -2.1 0ZM185.5 161.6a1.05 1.05 0 1 0 2.1 0a1.05 1.05 0 1 0 -2.1 0ZM163.2 173.8a1.05 1.05 0 1 0 2.1 0a1.05 1.05 0 1 0 -2.1 0ZM195.3 154.6a1.05 1.05 0 1 0 2.1 0a1.05 1.05 0 1 0 -2.1 0ZM193.4 156.2a1.05 1.05 0 1 0 2.1 0a1.05 1.05 0 1 0 -2.1 0ZM159.2 173.7a1.05 1.05 0 1 0 2.1 0a1.05 1.05 0 1 0 -2.1 0ZM165.3 171.1a1.05 1.05 0 1 0 2.1 0a1.05 1.05 0 1 0 -2.1 0ZM189.5 158.7a1.05 1.05 0 1 0 2.1 0a1.05 1.05 0 1 0 -2.1 0ZM180.1 162.2a1.05 1.05 0 1 0 2.1 0a1.05 1.05 0 1 0 -2.1 0ZM199.4 155.0a1.05 1.05 0 1 0 2.1 0a1.05 1.05 0 1 0 -2.1 0ZM188.8 157.8a1.05 1.05 0 1 0 2.1 0a1.05 1.05 0 1 0 -2.1 0ZM232.0 138.6a1.05 1.05 0 1 0 2.1 0a1.05 1.05 0 1 0 -2.1 0ZM183.9 162.3a1.05 1.05 0 1 0 2.1 0a1.05 1.05 0 1 0 -2.1 0ZM172.0 168.1a1.05 1.05 0 1 0 2.1 0a1.05 1.05 0 1 0 -2.1 0ZM210.2 147.6a1.05 1.05 0 1 0 2.1 0a1.05 1.05 0 1 0 -2.1 0ZM176.8 163.1a1.05 1.05 0 1 0 2.1 0a1.05 1.05 0 1 0 -2.1 0ZM187.7 158.1a1.05 1.05 0 1 0 2.1 0a1.05 1.05 0 1 0 -2.1 0ZM195.9 155.3a1.05 1.05 0 1 0 2.1 0a1.05 1.05 0 1 0 -2.1 0ZM178.8 164.1a1.05 1.05 0 1 0 2.1 0a1.05 1.05 0 1 0 -2.1 0ZM201.8 150.3a1.05 1.05 0 1 0 2.1 0a1.05 1.05 0 1 0 -2.1 0ZM197.4 154.6a1.05 1.05 0 1 0 2.1 0a1.05 1.05 0 1 0 -2.1 0ZM190.6 156.4a1.05 1.05 0 1 0 2.1 0a1.05 1.05 0 1 0 -2.1 0ZM202.2 153.6a1.05 1.05 0 1 0 2.1 0a1.05 1.05 0 1 0 -2.1 0ZM181.1 160.8a1.05 1.05 0 1 0 2.1 0a1.05 1.05 0 1 0 -2.1 0ZM217.4 142.3a1.05 1.05 0 1 0 2.1 0a1.05 1.05 0 1 0 -2.1 0ZM203.8 149.2a1.05 1.05 0 1 0 2.1 0a1.05 1.05 0 1 0 -2.1 0ZM169.1 173.0a1.05 1.05 0 1 0 2.1 0a1.05 1.05 0 1 0 -2.1 0ZM189.2 158.0a1.05 1.05 0 1 0 2.1 0a1.05 1.05 0 1 0 -2.1 0ZM192.9 155.6a1.05 1.05 0 1 0 2.1 0a1.05 1.05 0 1 0 -2.1 0ZM159.3 172.4a1.05 1.05 0 1 0 2.1 0a1.05 1.05 0 1 0 -2.1 0ZM196.7 151.9a1.05 1.05 0 1 0 2.1 0a1.05 1.05 0 1 0 -2.1 0ZM217.5 142.1a1.05 1.05 0 1 0 2.1 0a1.05 1.05 0 1 0 -2.1 0ZM197.5 156.0a1.05 1.05 0 1 0 2.1 0a1.05 1.05 0 1 0 -2.1 0ZM197.0 151.0a1.05 1.05 0 1 0 2.1 0a1.05 1.05 0 1 0 -2.1 0ZM226.1 139.7a1.05 1.05 0 1 0 2.1 0a1.05 1.05 0 1 0 -2.1 0ZM191.7 156.6a1.05 1.05 0 1 0 2.1 0a1.05 1.05 0 1 0 -2.1 0ZM202.5 150.6a1.05 1.05 0 1 0 2.1 0a1.05 1.05 0 1 0 -2.1 0ZM200.2 155.7a1.05 1.05 0 1 0 2.1 0a1.05 1.05 0 1 0 -2.1 0ZM183.3 161.0a1.05 1.05 0 1 0 2.1 0a1.05 1.05 0 1 0 -2.1 0ZM188.1 158.6a1.05 1.05 0 1 0 2.1 0a1.05 1.05 0 1 0 -2.1 0ZM190.8 157.1a1.05 1.05 0 1 0 2.1 0a1.05 1.05 0 1 0 -2.1 0ZM175.0 166.3a1.05 1.05 0 1 0 2.1 0a1.05 1.05 0 1 0 -2.1 0ZM206.6 149.6a1.05 1.05 0 1 0 2.1 0a1.05 1.05 0 1 0 -2.1 0ZM170.4 168.0a1.05 1.05 0 1 0 2.1 0a1.05 1.05 0 1 0 -2.1 0ZM216.4 145.2a1.05 1.05 0 1 0 2.1 0a1.05 1.05 0 1 0 -2.1 0ZM164.2 170.0a1.05 1.05 0 1 0 2.1 0a1.05 1.05 0 1 0 -2.1 0ZM218.1 143.4a1.05 1.05 0 1 0 2.1 0a1.05 1.05 0 1 0 -2.1 0ZM210.7 147.6a1.05 1.05 0 1 0 2.1 0a1.05 1.05 0 1 0 -2.1 0ZM188.9 157.2a1.05 1.05 0 1 0 2.1 0a1.05 1.05 0 1 0 -2.1 0ZM186.7 162.7a1.05 1.05 0 1 0 2.1 0a1.05 1.05 0 1 0 -2.1 0ZM172.8 164.2a1.05 1.05 0 1 0 2.1 0a1.05 1.05 0 1 0 -2.1 0ZM176.2 165.7a1.05 1.05 0 1 0 2.1 0a1.05 1.05 0 1 0 -2.1 0ZM192.2 157.4a1.05 1.05 0 1 0 2.1 0a1.05 1.05 0 1 0 -2.1 0ZM197.9 154.1a1.05 1.05 0 1 0 2.1 0a1.05 1.05 0 1 0 -2.1 0ZM189.4 158.0a1.05 1.05 0 1 0 2.1 0a1.05 1.05 0 1 0 -2.1 0ZM187.5 155.7a1.05 1.05 0 1 0 2.1 0a1.05 1.05 0 1 0 -2.1 0ZM202.4 149.9a1.05 1.05 0 1 0 2.1 0a1.05 1.05 0 1 0 -2.1 0ZM194.3 153.7a1.05 1.05 0 1 0 2.1 0a1.05 1.05 0 1 0 -2.1 0ZM161.4 171.4a1.05 1.05 0 1 0 2.1 0a1.05 1.05 0 1 0 -2.1 0ZM220.1 142.6a1.05 1.05 0 1 0 2.1 0a1.05 1.05 0 1 0 -2.1 0ZM208.9 144.6a1.05 1.05 0 1 0 2.1 0a1.05 1.05 0 1 0 -2.1 0ZM188.0 158.1a1.05 1.05 0 1 0 2.1 0a1.05 1.05 0 1 0 -2.1 0ZM199.4 153.2a1.05 1.05 0 1 0 2.1 0a1.05 1.05 0 1 0 -2.1 0ZM161.7 173.5a1.05 1.05 0 1 0 2.1 0a1.05 1.05 0 1 0 -2.1 0ZM174.6 166.8a1.05 1.05 0 1 0 2.1 0a1.05 1.05 0 1 0 -2.1 0ZM185.5 160.1a1.05 1.05 0 1 0 2.1 0a1.05 1.05 0 1 0 -2.1 0ZM173.4 166.5a1.05 1.05 0 1 0 2.1 0a1.05 1.05 0 1 0 -2.1 0ZM166.9 169.7a1.05 1.05 0 1 0 2.1 0a1.05 1.05 0 1 0 -2.1 0ZM217.3 143.7a1.05 1.05 0 1 0 2.1 0a1.05 1.05 0 1 0 -2.1 0ZM198.7 153.8a1.05 1.05 0 1 0 2.1 0a1.05 1.05 0 1 0 -2.1 0ZM186.2 160.8a1.05 1.05 0 1 0 2.1 0a1.05 1.05 0 1 0 -2.1 0Z" fill="#000"/>
<path d="M84.6 849.2L100.0 849.2L104.0 848.2L110.0 846.5L116.0 844.6L122.0 842.6L128.0 841.4L134.0 840.5L140.0 839.8L150.0 838.0L157.0 836.5L170.0 834.0L176.0 833.0L190.0 832.0L208.5 830.2L230.0 827.5L247.0 825.0L260.0 822.0L270.0 821.0L279.0 820.0L298.5 818.5L317.7 816.5L337.0 814.2L350.0 812.6L356.0 810.8L363.5 807.9L376.9 804.0L390.4 801.0L403.8 796.9L417.3 791.5L428.1 784.8L436.2 778.1L442.9 771.4L448.3 763.3L452.3 756.5L455.0 749.8L457.7 740.4L459.0 732.3" fill="none" stroke="#000" stroke-width="4.5" stroke-linecap="round" stroke-linejoin="round"/>
<path d="M457.0 693.1a2.4 2.4 0 1 0 4.8 0a2.4 2.4 0 1 0 -4.8 0ZM457.8 690.1a2.4 2.4 0 1 0 4.8 0a2.4 2.4 0 1 0 -4.8 0ZM458.8 614.0a2.4 2.4 0 1 0 4.8 0a2.4 2.4 0 1 0 -4.8 0ZM459.0 608.0a2.4 2.4 0 1 0 4.8 0a2.4 2.4 0 1 0 -4.8 0Z" fill="#000"/>
<path d="M99.0 849.1L105.0 849.1L102.0 843.4ZM107.6 847.2L113.6 847.2L110.6 841.5ZM111.7 847.2L117.7 847.2L114.7 841.5ZM117.4 843.2L123.4 843.2L120.4 837.5ZM123.2 842.1L129.2 842.1L126.2 836.4ZM130.1 842.1L136.1 842.1L133.1 836.4ZM129.9 841.9L135.9 841.9L132.9 836.1ZM134.7 840.9L140.7 840.9L137.7 835.1ZM139.5 839.9L145.5 839.9L142.5 834.1ZM144.3 837.0L150.3 837.0L147.3 831.2ZM154.9 835.1L160.9 835.1L157.9 829.4ZM158.7 835.1L164.7 835.1L161.7 829.4ZM166.4 834.1L172.4 834.1L169.4 828.4ZM173.2 832.1L179.2 832.1L176.2 826.4ZM142.4 851.6L148.4 851.6L145.4 845.9ZM149.1 851.6L155.1 851.6L152.1 845.9ZM155.8 851.6L161.8 851.6L158.8 845.9ZM134.7 848.6L140.7 848.6L137.7 842.9ZM124.1 850.6L130.1 850.6L127.1 844.9ZM128.9 850.6L134.9 850.6L131.9 844.9ZM162.6 843.2L168.6 843.2L165.6 837.5ZM172.8 832.8L178.8 832.8L175.8 827.0ZM179.5 832.8L185.5 832.8L182.5 827.0ZM188.2 831.9L194.2 831.9L191.2 826.1ZM197.8 829.9L203.8 829.9L200.8 824.1ZM209.7 826.1L215.7 826.1L212.7 820.4ZM214.7 827.0L220.7 827.0L217.7 821.2ZM221.8 827.0L227.8 827.0L224.8 821.2ZM232.4 821.2L238.4 821.2L235.4 815.5ZM243.0 824.1L249.0 824.1L246.0 818.4ZM249.7 824.1L255.7 824.1L252.7 818.4ZM257.4 821.2L263.4 821.2L260.4 815.5ZM262.2 820.2L268.2 820.2L265.2 814.5ZM267.0 819.4L273.0 819.4L270.0 813.6ZM213.2 834.9L219.2 834.9L216.2 829.1ZM192.0 838.6L198.0 838.6L195.0 832.9ZM198.7 838.6L204.7 838.6L201.7 832.9ZM244.3 833.9L250.3 833.9L247.3 828.1ZM250.7 837.1L256.7 837.1L253.7 831.4ZM262.2 830.9L268.2 830.9L265.2 825.1ZM261.8 820.5L267.8 820.5L264.8 814.8ZM267.0 819.5L273.0 819.5L270.0 813.8ZM279.1 819.5L285.1 819.5L282.1 813.8ZM295.5 818.6L301.5 818.6L298.5 812.9ZM303.2 816.6L309.2 816.6L306.2 810.9ZM318.2 809.0L324.2 809.0L321.2 803.2ZM325.8 812.1L331.8 812.1L328.8 806.4ZM333.9 810.9L339.9 810.9L336.9 805.1ZM343.5 806.1L349.5 806.1L346.5 800.4ZM347.4 807.0L353.4 807.0L350.4 801.2ZM351.2 801.2L357.2 801.2L354.2 795.5ZM357.0 810.9L363.0 810.9L360.0 805.1ZM264.7 830.1L270.7 830.1L267.7 824.4ZM261.0 831.1L267.0 831.1L264.0 825.4ZM280.1 834.1L286.1 834.1L283.1 828.4ZM283.9 829.1L289.9 829.1L286.9 823.4ZM291.6 832.1L297.6 832.1L294.6 826.4ZM295.5 828.2L301.5 828.2L298.5 822.5ZM308.9 827.2L314.9 827.2L311.9 821.5ZM312.8 827.2L318.8 827.2L315.8 821.5ZM322.0 829.1L328.0 829.1L325.0 823.4ZM338.7 825.4L344.7 825.4L341.7 819.6ZM330.0 823.5L336.0 823.5L333.0 817.8ZM357.0 818.6L363.0 818.6L360.0 812.9ZM261.8 829.1L267.8 829.1L264.8 823.4ZM264.7 830.6L270.7 830.6L267.7 824.9ZM267.6 829.1L273.6 829.1L270.6 823.4ZM262.8 831.6L268.8 831.6L265.8 825.9ZM279.1 829.1L285.1 829.1L282.1 823.4ZM281.0 831.1L287.0 831.1L284.0 825.4ZM280.1 834.1L286.1 834.1L283.1 828.4ZM283.0 832.1L289.0 832.1L286.0 826.4ZM278.2 835.6L284.2 835.6L281.2 829.9ZM288.7 827.2L294.7 827.2L291.7 821.5ZM291.6 829.1L297.6 829.1L294.6 823.4ZM294.5 827.2L300.5 827.2L297.5 821.5ZM292.6 832.1L298.6 832.1L295.6 826.4ZM296.4 829.1L302.4 829.1L299.4 823.4ZM290.7 833.1L296.7 833.1L293.7 827.4ZM307.0 825.4L313.0 825.4L310.0 819.6ZM309.9 827.2L315.9 827.2L312.9 821.5ZM312.8 826.0L318.8 826.0L315.8 820.2ZM451.2 719.6L457.2 719.6L454.2 713.9ZM386.8 783.1L392.8 783.1L389.8 777.4ZM351.8 799.0L357.8 799.0L354.8 793.2ZM376.6 799.0L382.6 799.0L379.6 793.2ZM381.5 799.0L387.5 799.0L384.5 793.2ZM384.7 799.0L390.7 799.0L387.7 793.2ZM368.0 802.5L374.0 802.5L371.0 796.8ZM356.4 807.4L362.4 807.4L359.4 801.6ZM392.8 797.6L398.8 797.6L395.8 791.9ZM397.6 792.2L403.6 792.2L400.6 786.5ZM402.2 789.6L408.2 789.6L405.2 783.9ZM400.9 795.8L406.9 795.8L403.9 790.0ZM411.6 783.1L417.6 783.1L414.6 777.4ZM419.2 784.1L425.2 784.1L422.2 778.4ZM414.3 788.5L420.3 788.5L417.3 782.8ZM433.2 766.1L439.2 766.1L436.2 760.4ZM433.2 769.6L439.2 769.6L436.2 763.9ZM430.5 778.8L436.5 778.8L433.5 773.0ZM441.2 760.0L447.2 760.0L444.2 754.2ZM443.4 746.5L449.4 746.5L446.4 740.8ZM444.5 753.5L450.5 753.5L447.5 747.8ZM449.3 737.9L455.3 737.9L452.3 732.1ZM454.7 735.1L460.7 735.1L457.7 729.4ZM456.0 743.2L462.0 743.2L459.0 737.5ZM454.7 750.0L460.7 750.0L457.7 744.2ZM456.0 758.9L462.0 758.9L459.0 753.1ZM453.4 763.5L459.4 763.5L456.4 757.8ZM448.0 773.4L454.0 773.4L451.0 767.6ZM451.5 779.1L457.5 779.1L454.5 773.4ZM443.4 780.4L449.4 780.4L446.4 774.6ZM445.3 790.4L451.3 790.4L448.3 784.6ZM439.9 788.5L445.9 788.5L442.9 782.8ZM437.2 795.8L443.2 795.8L440.2 790.0ZM431.8 794.4L437.8 794.4L434.8 788.6ZM435.9 805.1L441.9 805.1L438.9 799.4ZM425.1 802.0L431.1 802.0L428.1 796.2ZM427.2 807.4L433.2 807.4L430.2 801.6ZM423.2 810.6L429.2 810.6L426.2 804.9ZM418.4 805.1L424.4 805.1L421.4 799.4ZM416.5 811.1L422.5 811.1L419.5 805.4ZM413.0 802.5L419.0 802.5L416.0 796.8ZM410.3 811.9L416.3 811.9L413.3 806.1ZM404.9 810.6L410.9 810.6L407.9 804.9ZM408.4 813.8L414.4 813.8L411.4 808.0ZM413.0 820.0L419.0 820.0L416.0 814.2ZM408.9 823.2L414.9 823.2L411.9 817.5ZM399.5 811.9L405.5 811.9L402.5 806.1ZM395.5 817.2L401.5 817.2L398.5 811.5ZM398.7 818.6L404.7 818.6L401.7 812.9ZM390.1 811.9L396.1 811.9L393.1 806.1ZM384.7 811.9L390.7 811.9L387.7 806.1ZM382.0 817.2L388.0 817.2L385.0 811.5ZM387.4 816.0L393.4 816.0L390.4 810.2ZM375.3 819.1L381.3 819.1L378.3 813.4ZM373.9 826.8L379.9 826.8L376.9 821.0ZM369.9 822.6L375.9 822.6L372.9 816.9ZM365.8 821.4L371.8 821.4L368.8 815.6ZM357.8 818.6L363.8 818.6L360.8 812.9ZM351.0 819.1L357.0 819.1L354.0 813.4ZM363.2 806.6L369.2 806.6L366.2 800.9ZM348.3 805.1L354.3 805.1L351.3 799.4ZM458.7 654.1L464.7 654.1L461.7 648.4ZM457.8 661.6L463.8 661.6L460.8 655.9ZM449.6 737.6L455.6 737.6L452.6 731.9ZM452.9 735.8L458.9 735.8L455.9 730.0ZM455.8 740.6L461.8 740.6L458.8 734.9ZM456.8 743.5L462.8 743.5L459.8 737.8ZM443.2 746.4L449.2 746.4L446.2 740.6ZM444.8 753.1L450.8 753.1L447.8 747.4ZM455.8 759.1L461.8 759.1L458.8 753.4ZM452.9 762.9L458.9 762.9L455.9 757.1ZM441.3 760.0L447.3 760.0L444.3 754.2ZM433.5 765.9L439.5 765.9L436.5 760.1ZM433.5 768.8L439.5 768.8L436.5 763.0ZM448.1 773.6L454.1 773.6L451.1 767.9ZM83.7 852.1L89.7 852.1L86.7 846.4ZM84.5 852.1L90.5 852.1L87.5 846.4ZM85.3 852.1L91.3 852.1L88.3 846.4ZM86.1 852.1L92.1 852.1L89.1 846.4ZM86.9 852.1L92.9 852.1L89.9 846.4ZM87.7 852.1L93.7 852.1L90.7 846.4ZM88.4 852.1L94.4 852.1L91.4 846.4ZM89.2 852.1L95.2 852.1L92.2 846.4ZM90.0 852.1L96.0 852.1L93.0 846.4ZM90.8 852.1L96.8 852.1L93.8 846.4ZM91.6 852.1L97.6 852.1L94.6 846.4ZM92.4 852.1L98.4 852.1L95.4 846.4ZM93.2 852.1L99.2 852.1L96.2 846.4ZM93.9 852.1L99.9 852.1L96.9 846.4ZM94.7 852.1L100.7 852.1L97.7 846.4ZM95.5 852.1L101.5 852.1L98.5 846.4ZM96.3 852.1L102.3 852.1L99.3 846.4ZM97.1 852.0L103.1 852.0L100.1 846.3ZM97.9 852.0L103.9 852.0L100.9 846.3ZM98.7 851.7L104.7 851.7L101.7 846.0ZM99.4 851.7L105.4 851.7L102.4 846.0ZM100.2 851.6L106.2 851.6L103.2 845.9ZM101.0 851.8L107.0 851.8L104.0 846.1ZM101.8 852.4L107.8 852.4L104.8 846.7ZM102.6 851.7L108.6 851.7L105.6 846.0ZM103.4 852.0L109.4 852.0L106.4 846.3ZM104.1 852.7L110.1 852.7L107.1 847.0ZM104.9 852.7L110.9 852.7L107.9 847.0ZM105.7 850.7L111.7 850.7L108.7 845.0ZM106.5 850.2L112.5 850.2L109.5 844.5ZM107.3 851.9L113.3 851.9L110.3 846.2ZM108.1 850.5L114.1 850.5L111.1 844.8ZM108.9 852.6L114.9 852.6L111.9 846.9ZM109.6 852.1L115.6 852.1L112.6 846.4ZM110.4 852.3L116.4 852.3L113.4 846.6ZM111.2 850.2L117.2 850.2L114.2 844.5ZM112.0 848.1L118.0 848.1L115.0 842.4ZM112.8 850.8L118.8 850.8L115.8 845.1ZM113.6 847.7L119.6 847.7L116.6 842.0ZM114.3 848.9L120.3 848.9L117.3 843.2ZM115.1 847.4L121.1 847.4L118.1 841.7ZM115.9 848.0L121.9 848.0L118.9 842.3ZM116.7 851.4L122.7 851.4L119.7 845.7ZM117.5 847.2L123.5 847.2L120.5 841.5ZM118.3 847.0L124.3 847.0L121.3 841.3ZM119.1 850.8L125.1 850.8L122.1 845.1ZM119.8 846.2L125.8 846.2L122.8 840.5ZM120.6 847.6L126.6 847.6L123.6 841.9ZM121.4 844.2L127.4 844.2L124.4 838.5ZM122.2 844.6L128.2 844.6L125.2 838.9ZM123.0 842.9L129.0 842.9L126.0 837.2ZM123.8 849.0L129.8 849.0L126.8 843.3ZM124.5 844.0L130.5 844.0L127.5 838.3ZM125.3 841.3L131.3 841.3L128.3 835.6ZM126.1 844.3L132.1 844.3L129.1 838.6ZM126.9 841.9L132.9 841.9L129.9 836.2ZM127.7 839.1L133.7 839.1L130.7 833.4ZM128.5 845.6L134.5 845.6L131.5 839.9ZM129.3 841.9L135.3 841.9L132.3 836.2ZM130.0 841.6L136.0 841.6L133.0 835.9ZM130.8 844.0L136.8 844.0L133.8 838.3ZM131.6 842.2L137.6 842.2L134.6 836.5ZM132.4 842.0L138.4 842.0L135.4 836.3ZM133.2 846.2L139.2 846.2L136.2 840.5ZM134.0 841.0L140.0 841.0L137.0 835.3ZM134.8 843.7L140.8 843.7L137.8 838.0ZM135.5 842.8L141.5 842.8L138.5 837.1ZM136.3 842.2L142.3 842.2L139.3 836.5ZM137.1 840.1L143.1 840.1L140.1 834.4ZM137.9 840.6L143.9 840.6L140.9 834.9ZM138.7 839.5L144.7 839.5L141.7 833.8ZM139.5 839.8L145.5 839.8L142.5 834.1ZM140.2 836.6L146.2 836.6L143.2 830.9ZM141.0 842.7L147.0 842.7L144.0 837.0ZM141.8 837.7L147.8 837.7L144.8 832.0ZM142.6 841.0L148.6 841.0L145.6 835.3ZM143.4 841.5L149.4 841.5L146.4 835.8ZM144.2 839.2L150.2 839.2L147.2 833.5ZM145.0 843.2L151.0 843.2L148.0 837.5ZM145.7 844.4L151.7 844.4L148.7 838.7ZM146.5 840.7L152.5 840.7L149.5 835.0ZM147.3 838.1L153.3 838.1L150.3 832.4ZM148.1 841.1L154.1 841.1L151.1 835.4ZM148.9 843.1L154.9 843.1L151.9 837.4ZM149.7 840.8L155.7 840.8L152.7 835.1ZM150.4 838.5L156.4 838.5L153.4 832.8ZM151.2 843.7L157.2 843.7L154.2 838.0ZM152.0 837.2L158.0 837.2L155.0 831.5ZM152.8 836.6L158.8 836.6L155.8 830.9ZM153.6 836.9L159.6 836.9L156.6 831.2ZM154.4 838.8L160.4 838.8L157.4 833.1ZM155.2 838.5L161.2 838.5L158.2 832.8ZM155.9 839.7L161.9 839.7L158.9 834.0ZM156.7 837.4L162.7 837.4L159.7 831.7ZM157.5 837.2L163.5 837.2L160.5 831.5ZM158.3 835.7L164.3 835.7L161.3 830.0ZM159.1 838.8L165.1 838.8L162.1 833.1ZM159.9 834.3L165.9 834.3L162.9 828.6ZM160.6 836.7L166.6 836.7L163.6 831.0ZM161.4 838.4L167.4 838.4L164.4 832.7ZM162.2 836.6L168.2 836.6L165.2 830.9ZM163.0 835.7L169.0 835.7L166.0 830.0ZM163.8 836.9L169.8 836.9L166.8 831.2ZM164.6 839.4L170.6 839.4L167.6 833.7ZM165.4 838.2L171.4 838.2L168.4 832.5ZM166.1 833.4L172.1 833.4L169.1 827.7ZM166.9 834.9L172.9 834.9L169.9 829.2ZM167.7 841.0L173.7 841.0L170.7 835.3ZM168.5 835.7L174.5 835.7L171.5 830.0ZM169.3 835.9L175.3 835.9L172.3 830.2ZM170.1 835.0L176.1 835.0L173.1 829.3ZM170.9 837.8L176.9 837.8L173.9 832.1ZM171.6 836.5L177.6 836.5L174.6 830.8ZM172.4 835.5L178.4 835.5L175.4 829.8ZM173.2 832.7L179.2 832.7L176.2 827.0ZM174.0 837.1L180.0 837.1L177.0 831.4ZM174.8 836.3L180.8 836.3L177.8 830.6ZM175.6 836.3L181.6 836.3L178.6 830.6ZM176.3 839.8L182.3 839.8L179.3 834.1ZM177.1 830.3L183.1 830.3L180.1 824.6ZM177.9 832.5L183.9 832.5L180.9 826.8ZM178.7 831.4L184.7 831.4L181.7 825.7ZM179.5 833.2L185.5 833.2L182.5 827.5ZM180.3 833.7L186.3 833.7L183.3 828.0ZM181.1 834.7L187.1 834.7L184.1 829.0ZM181.8 834.3L187.8 834.3L184.8 828.6ZM182.6 837.3L188.6 837.3L185.6 831.6ZM183.4 832.1L189.4 832.1L186.4 826.4ZM184.2 834.5L190.2 834.5L187.2 828.8ZM185.0 833.9L191.0 833.9L188.0 828.2ZM185.8 832.1L191.8 832.1L188.8 826.4ZM186.5 831.8L192.5 831.8L189.5 826.1ZM187.3 833.6L193.3 833.6L190.3 827.9ZM188.1 831.7L194.1 831.7L191.1 826.0ZM188.9 834.6L194.9 834.6L191.9 828.9ZM189.7 833.6L195.7 833.6L192.7 827.9ZM190.5 829.8L196.5 829.8L193.5 824.1ZM191.3 832.3L197.3 832.3L194.3 826.6ZM192.0 836.5L198.0 836.5L195.0 830.8ZM192.8 831.0L198.8 831.0L195.8 825.3ZM193.6 832.0L199.6 832.0L196.6 826.3ZM194.4 829.0L200.4 829.0L197.4 823.3ZM195.2 835.0L201.2 835.0L198.2 829.3ZM196.0 831.8L202.0 831.8L199.0 826.1ZM196.8 830.9L202.8 830.9L199.8 825.2ZM197.5 828.3L203.5 828.3L200.5 822.6ZM198.3 834.5L204.3 834.5L201.3 828.8ZM199.1 830.9L205.1 830.9L202.1 825.2ZM199.9 833.8L205.9 833.8L202.9 828.1ZM200.7 828.0L206.7 828.0L203.7 822.3ZM201.5 829.4L207.5 829.4L204.5 823.7ZM202.2 830.9L208.2 830.9L205.2 825.2ZM203.0 829.9L209.0 829.9L206.0 824.2ZM203.8 834.4L209.8 834.4L206.8 828.7ZM204.6 831.4L210.6 831.4L207.6 825.7ZM205.4 831.4L211.4 831.4L208.4 825.7ZM206.2 827.5L212.2 827.5L209.2 821.8ZM207.0 827.4L213.0 827.4L210.0 821.7ZM207.7 834.6L213.7 834.6L210.7 828.9ZM208.5 829.0L214.5 829.0L211.5 823.3ZM209.3 828.6L215.3 828.6L212.3 822.9ZM210.1 834.0L216.1 834.0L213.1 828.3ZM210.9 829.1L216.9 829.1L213.9 823.4ZM211.7 830.0L217.7 830.0L214.7 824.3ZM212.4 831.7L218.4 831.7L215.4 826.0ZM213.2 830.2L219.2 830.2L216.2 824.5ZM214.0 831.0L220.0 831.0L217.0 825.3ZM214.8 830.3L220.8 830.3L217.8 824.6ZM215.6 828.6L221.6 828.6L218.6 822.9ZM216.4 829.1L222.4 829.1L219.4 823.4ZM217.2 831.0L223.2 831.0L220.2 825.3ZM217.9 834.2L223.9 834.2L220.9 828.5ZM218.7 827.1L224.7 827.1L221.7 821.4ZM219.5 830.3L225.5 830.3L222.5 824.6ZM220.3 831.8L226.3 831.8L223.3 826.1ZM221.1 829.2L227.1 829.2L224.1 823.5ZM221.9 832.0L227.9 832.0L224.9 826.3ZM222.6 830.0L228.6 830.0L225.6 824.3ZM223.4 829.1L229.4 829.1L226.4 823.4ZM224.2 828.2L230.2 828.2L227.2 822.5ZM225.0 832.1L231.0 832.1L228.0 826.4ZM225.8 834.1L231.8 834.1L228.8 828.4ZM226.6 828.0L232.6 828.0L229.6 822.3ZM227.4 827.1L233.4 827.1L230.4 821.4ZM228.1 830.8L234.1 830.8L231.1 825.1ZM228.9 827.7L234.9 827.7L231.9 822.0ZM229.7 828.1L235.7 828.1L232.7 822.4ZM230.5 827.5L236.5 827.5L233.5 821.8ZM231.3 824.8L237.3 824.8L234.3 819.1ZM232.1 830.4L238.1 830.4L235.1 824.7ZM232.9 832.7L238.9 832.7L235.9 827.0ZM233.6 825.8L239.6 825.8L236.6 820.1ZM234.4 825.9L240.4 825.9L237.4 820.2ZM235.2 830.3L241.2 830.3L238.2 824.6ZM236.0 827.5L242.0 827.5L239.0 821.8ZM236.8 829.1L242.8 829.1L239.8 823.4ZM237.6 823.3L243.6 823.3L240.6 817.6ZM238.3 827.8L244.3 827.8L241.3 822.1ZM239.1 829.8L245.1 829.8L242.1 824.1ZM239.9 824.4L245.9 824.4L242.9 818.7ZM240.7 829.2L246.7 829.2L243.7 823.5ZM241.5 826.6L247.5 826.6L244.5 820.9ZM242.3 828.4L248.3 828.4L245.3 822.7ZM243.1 829.3L249.1 829.3L246.1 823.6ZM243.8 826.6L249.8 826.6L246.8 820.9ZM244.6 828.4L250.6 828.4L247.6 822.7ZM245.4 823.6L251.4 823.6L248.4 817.9ZM246.2 828.1L252.2 828.1L249.2 822.4ZM247.0 824.1L253.0 824.1L250.0 818.4ZM247.8 826.1L253.8 826.1L250.8 820.4ZM248.5 829.4L254.5 829.4L251.5 823.7ZM249.3 821.1L255.3 821.1L252.3 815.4ZM250.1 824.5L256.1 824.5L253.1 818.8ZM250.9 825.5L256.9 825.5L253.9 819.8ZM251.7 829.9L257.7 829.9L254.7 824.2ZM252.5 825.9L258.5 825.9L255.5 820.2ZM253.3 828.4L259.3 828.4L256.3 822.7ZM254.0 825.5L260.0 825.5L257.0 819.8ZM254.8 822.5L260.8 822.5L257.8 816.8ZM255.6 823.3L261.6 823.3L258.6 817.6ZM256.4 824.1L262.4 824.1L259.4 818.4ZM257.2 823.4L263.2 823.4L260.2 817.7ZM258.0 825.5L264.0 825.5L261.0 819.8ZM258.7 825.7L264.7 825.7L261.7 820.0ZM259.5 828.1L265.5 828.1L262.5 822.4ZM260.3 824.2L266.3 824.2L263.3 818.5ZM261.1 823.5L267.1 823.5L264.1 817.8ZM261.9 824.7L267.9 824.7L264.9 819.0ZM262.7 826.5L268.7 826.5L265.7 820.8ZM263.5 824.2L269.5 824.2L266.5 818.5ZM264.2 819.9L270.2 819.9L267.2 814.2ZM265.0 824.2L271.0 824.2L268.0 818.5ZM265.8 820.5L271.8 820.5L268.8 814.8ZM266.6 819.3L272.6 819.3L269.6 813.6ZM267.4 826.3L273.4 826.3L270.4 820.6ZM268.2 821.8L274.2 821.8L271.2 816.1ZM269.0 823.5L275.0 823.5L272.0 817.8ZM269.7 825.1L275.7 825.1L272.7 819.4ZM270.5 822.6L276.5 822.6L273.5 816.9ZM271.3 822.7L277.3 822.7L274.3 817.0ZM272.1 818.5L278.1 818.5L275.1 812.8ZM272.9 822.9L278.9 822.9L275.9 817.2ZM273.7 822.9L279.7 822.9L276.7 817.2ZM274.4 823.7L280.4 823.7L277.4 818.0ZM275.2 819.8L281.2 819.8L278.2 814.1ZM276.0 824.9L282.0 824.9L279.0 819.2ZM276.8 818.5L282.8 818.5L279.8 812.8ZM277.6 821.3L283.6 821.3L280.6 815.6ZM278.4 821.8L284.4 821.8L281.4 816.1ZM279.2 819.2L285.2 819.2L282.2 813.5ZM279.9 822.9L285.9 822.9L282.9 817.2ZM280.7 817.0L286.7 817.0L283.7 811.3ZM281.5 826.2L287.5 826.2L284.5 820.5ZM282.3 824.3L288.3 824.3L285.3 818.6ZM283.1 821.1L289.1 821.1L286.1 815.4ZM283.9 820.0L289.9 820.0L286.9 814.3ZM284.6 818.0L290.6 818.0L287.6 812.3ZM285.4 822.1L291.4 822.1L288.4 816.4ZM286.2 823.0L292.2 823.0L289.2 817.3ZM287.0 819.8L293.0 819.8L290.0 814.1ZM287.8 816.5L293.8 816.5L290.8 810.8ZM288.6 818.8L294.6 818.8L291.6 813.1ZM289.4 822.5L295.4 822.5L292.4 816.8ZM290.1 816.3L296.1 816.3L293.1 810.6ZM290.9 817.3L296.9 817.3L293.9 811.6ZM291.7 821.4L297.7 821.4L294.7 815.7ZM292.5 821.7L298.5 821.7L295.5 816.0ZM293.3 824.2L299.3 824.2L296.3 818.5ZM294.1 821.9L300.1 821.9L297.1 816.2ZM294.9 817.3L300.9 817.3L297.9 811.6ZM295.6 820.0L301.6 820.0L298.6 814.3ZM296.4 818.6L302.4 818.6L299.4 812.9ZM297.2 825.7L303.2 825.7L300.2 820.0ZM298.0 817.4L304.0 817.4L301.0 811.7ZM298.8 824.5L304.8 824.5L301.8 818.8ZM299.6 820.9L305.6 820.9L302.6 815.2ZM300.3 821.8L306.3 821.8L303.3 816.1ZM301.1 819.0L307.1 819.0L304.1 813.3ZM301.9 825.2L307.9 825.2L304.9 819.5ZM302.7 818.4L308.7 818.4L305.7 812.7ZM303.5 820.3L309.5 820.3L306.5 814.6ZM304.3 821.7L310.3 821.7L307.3 816.0ZM305.1 817.8L311.1 817.8L308.1 812.1ZM305.8 821.8L311.8 821.8L308.8 816.1ZM306.6 820.9L312.6 820.9L309.6 815.2ZM307.4 817.6L313.4 817.6L310.4 811.9ZM308.2 824.5L314.2 824.5L311.2 818.8ZM309.0 821.2L315.0 821.2L312.0 815.5ZM309.8 824.4L315.8 824.4L312.8 818.7ZM310.5 821.9L316.5 821.9L313.5 816.2ZM311.3 821.2L317.3 821.2L314.3 815.5ZM312.1 822.0L318.1 822.0L315.1 816.3ZM312.9 820.3L318.9 820.3L315.9 814.6ZM313.7 818.5L319.7 818.5L316.7 812.8ZM314.5 821.6L320.5 821.6L317.5 815.9ZM315.3 822.1L321.3 822.1L318.3 816.4ZM316.0 818.8L322.0 818.8L319.0 813.1ZM316.8 814.8L322.8 814.8L319.8 809.1ZM317.6 817.2L323.6 817.2L320.6 811.5ZM318.4 813.7L324.4 813.7L321.4 808.0ZM319.2 813.3L325.2 813.3L322.2 807.6ZM320.0 819.4L326.0 819.4L323.0 813.7ZM320.7 820.5L326.7 820.5L323.7 814.8ZM321.5 819.8L327.5 819.8L324.5 814.1ZM322.3 816.8L328.3 816.8L325.3 811.1ZM323.1 818.4L329.1 818.4L326.1 812.7ZM323.9 818.2L329.9 818.2L326.9 812.5ZM324.7 815.0L330.7 815.0L327.7 809.3ZM325.5 813.7L331.5 813.7L328.5 808.0ZM326.2 817.7L332.2 817.7L329.2 812.0ZM327.0 816.3L333.0 816.3L330.0 810.6ZM327.8 817.4L333.8 817.4L330.8 811.7ZM328.6 814.5L334.6 814.5L331.6 808.8ZM329.4 821.3L335.4 821.3L332.4 815.6ZM330.2 819.3L336.2 819.3L333.2 813.6ZM331.0 816.8L337.0 816.8L334.0 811.1ZM331.7 821.6L337.7 821.6L334.7 815.9ZM332.5 812.3L338.5 812.3L335.5 806.6ZM333.3 814.3L339.3 814.3L336.3 808.6ZM334.1 816.9L340.1 816.9L337.1 811.2ZM334.9 818.3L340.9 818.3L337.9 812.6ZM335.7 820.2L341.7 820.2L338.7 814.5ZM336.4 813.7L342.4 813.7L339.4 808.0ZM337.2 817.0L343.2 817.0L340.2 811.3ZM338.0 821.1L344.0 821.1L341.0 815.4ZM338.8 818.0L344.8 818.0L341.8 812.3ZM339.6 814.2L345.6 814.2L342.6 808.5ZM340.4 816.4L346.4 816.4L343.4 810.7ZM341.2 817.6L347.2 817.6L344.2 811.9ZM341.9 813.4L347.9 813.4L344.9 807.7ZM342.7 812.6L348.7 812.6L345.7 806.9ZM343.5 816.5L349.5 816.5L346.5 810.8ZM344.3 819.0L350.3 819.0L347.3 813.3ZM345.1 817.3L351.1 817.3L348.1 811.6ZM345.9 810.6L351.9 810.6L348.9 804.9ZM346.6 819.1L352.6 819.1L349.6 813.4ZM347.4 817.5L353.4 817.5L350.4 811.8ZM348.2 814.6L354.2 814.6L351.2 808.9ZM349.0 814.3L355.0 814.3L352.0 808.6ZM349.8 815.2L355.8 815.2L352.8 809.5ZM350.6 811.6L356.6 811.6L353.6 805.9ZM351.4 816.0L357.4 816.0L354.4 810.3ZM352.1 816.1L358.1 816.1L355.1 810.4ZM352.9 812.8L358.9 812.8L355.9 807.1ZM353.7 813.3L359.7 813.3L356.7 807.6ZM354.5 814.6L360.5 814.6L357.5 808.9ZM355.3 810.0L361.3 810.0L358.3 804.3ZM356.1 809.9L362.1 809.9L359.1 804.2ZM356.8 814.8L362.8 814.8L359.8 809.1ZM357.6 814.7L363.6 814.7L360.6 809.0ZM358.4 813.2L364.4 813.2L361.4 807.5ZM359.2 811.8L365.2 811.8L362.2 806.1ZM360.0 811.8L366.0 811.8L363.0 806.1ZM360.8 813.9L366.8 813.9L363.8 808.2ZM361.6 810.1L367.6 810.1L364.6 804.4ZM362.3 812.2L368.3 812.2L365.3 806.5ZM363.1 809.7L369.1 809.7L366.1 804.0ZM363.9 809.5L369.9 809.5L366.9 803.8ZM364.7 809.8L370.7 809.8L367.7 804.1ZM365.5 808.7L371.5 808.7L368.5 803.0ZM366.3 808.0L372.3 808.0L369.3 802.3ZM367.1 809.1L373.1 809.1L370.1 803.4ZM367.8 809.8L373.8 809.8L370.8 804.1ZM368.6 811.0L374.6 811.0L371.6 805.3ZM369.4 806.9L375.4 806.9L372.4 801.2ZM370.2 809.0L376.2 809.0L373.2 803.3ZM371.0 806.1L377.0 806.1L374.0 800.4ZM371.8 809.1L377.8 809.1L374.8 803.4ZM372.5 808.3L378.5 808.3L375.5 802.6ZM373.3 808.5L379.3 808.5L376.3 802.8ZM374.1 805.4L380.1 805.4L377.1 799.7ZM374.9 805.0L380.9 805.0L377.9 799.3ZM375.7 803.2L381.7 803.2L378.7 797.5ZM376.5 806.0L382.5 806.0L379.5 800.3ZM377.3 803.6L383.3 803.6L380.3 797.9ZM378.0 803.9L384.0 803.9L381.0 798.2ZM378.8 806.5L384.8 806.5L381.8 800.8ZM379.6 809.1L385.6 809.1L382.6 803.4ZM380.4 807.3L386.4 807.3L383.4 801.6ZM381.2 801.8L387.2 801.8L384.2 796.1ZM382.0 804.8L388.0 804.8L385.0 799.1ZM382.7 806.8L388.7 806.8L385.7 801.1ZM383.5 806.3L389.5 806.3L386.5 800.6ZM384.3 804.3L390.3 804.3L387.3 798.6ZM385.1 808.7L391.1 808.7L388.1 803.0ZM385.9 804.5L391.9 804.5L388.9 798.8ZM386.7 805.3L392.7 805.3L389.7 799.6ZM387.5 805.3L393.5 805.3L390.5 799.6ZM388.2 803.8L394.2 803.8L391.2 798.1ZM389.0 802.3L395.0 802.3L392.0 796.6ZM389.8 806.5L395.8 806.5L392.8 800.8ZM390.6 805.3L396.6 805.3L393.6 799.6ZM391.4 800.1L397.4 800.1L394.4 794.4ZM392.2 804.4L398.2 804.4L395.2 798.7ZM393.0 803.9L399.0 803.9L396.0 798.2ZM393.7 803.7L399.7 803.7L396.7 798.0ZM394.5 801.9L400.5 801.9L397.5 796.2ZM395.3 801.5L401.3 801.5L398.3 795.8ZM396.1 802.5L402.1 802.5L399.1 796.8ZM396.9 804.1L402.9 804.1L399.9 798.4ZM397.7 805.2L403.7 805.2L400.7 799.5ZM398.4 798.2L404.4 798.2L401.4 792.5ZM399.2 802.3L405.2 802.3L402.2 796.6ZM400.0 801.9L406.0 801.9L403.0 796.2ZM400.8 800.3L406.8 800.3L403.8 794.6ZM401.6 797.6L407.6 797.6L404.6 791.9ZM402.4 799.0L408.4 799.0L405.4 793.3ZM403.2 798.1L409.2 798.1L406.2 792.4ZM403.9 799.7L409.9 799.7L406.9 794.0ZM404.7 799.0L410.7 799.0L407.7 793.3ZM405.5 800.6L411.5 800.6L408.5 794.9ZM406.3 798.5L412.3 798.5L409.3 792.8ZM407.1 795.2L413.1 795.2L410.1 789.5ZM407.9 797.1L413.9 797.1L410.9 791.4ZM408.6 797.7L414.6 797.7L411.6 792.0ZM409.4 797.7L415.4 797.7L412.4 792.0ZM410.2 797.4L416.2 797.4L413.2 791.7ZM411.0 799.6L417.0 799.6L414.0 793.9ZM411.8 799.9L417.8 799.9L414.8 794.2ZM412.6 795.2L418.6 795.2L415.6 789.5ZM413.4 795.7L419.4 795.7L416.4 790.0ZM414.1 795.2L420.1 795.2L417.1 789.5ZM414.9 796.4L420.9 796.4L417.9 790.7ZM415.7 793.2L421.7 793.2L418.7 787.5ZM416.5 793.5L422.5 793.5L419.5 787.8ZM417.3 791.2L423.3 791.2L420.3 785.5ZM418.1 790.2L424.1 790.2L421.1 784.5ZM418.8 792.4L424.8 792.4L421.8 786.7ZM419.6 789.1L425.6 789.1L422.6 783.4ZM420.4 792.0L426.4 792.0L423.4 786.3ZM421.2 793.4L427.2 793.4L424.2 787.7ZM422.0 790.2L428.0 790.2L425.0 784.5ZM424.3 789.2L430.3 789.2L427.3 783.5ZM426.7 785.7L432.7 785.7L429.7 780.0ZM429.1 781.8L435.1 781.8L432.1 776.1ZM431.4 783.7L437.4 783.7L434.4 778.0ZM433.8 779.8L439.8 779.8L436.8 774.1ZM436.1 779.1L442.1 779.1L439.1 773.4ZM438.5 777.2L444.5 777.2L441.5 771.5ZM440.8 773.2L446.8 773.2L443.8 767.5ZM443.2 767.1L449.2 767.1L446.2 761.4ZM445.5 764.1L451.5 764.1L448.5 758.4ZM447.9 762.9L453.9 762.9L450.9 757.2ZM450.2 756.9L456.2 756.9L453.2 751.2Z" fill="#000"/>
<path d="M156.8 642.1a1.1 1.1 0 1 0 2.2 0a1.1 1.1 0 1 0 -2.2 0ZM156.2 641.2a1.1 1.1 0 1 0 2.2 0a1.1 1.1 0 1 0 -2.2 0ZM156.4 642.7a1.1 1.1 0 1 0 2.2 0a1.1 1.1 0 1 0 -2.2 0ZM156.8 643.0a1.1 1.1 0 1 0 2.2 0a1.1 1.1 0 1 0 -2.2 0ZM156.9 642.0a1.1 1.1 0 1 0 2.2 0a1.1 1.1 0 1 0 -2.2 0ZM156.5 643.1a1.1 1.1 0 1 0 2.2 0a1.1 1.1 0 1 0 -2.2 0ZM157.1 643.2a1.1 1.1 0 1 0 2.2 0a1.1 1.1 0 1 0 -2.2 0ZM156.3 643.0a1.1 1.1 0 1 0 2.2 0a1.1 1.1 0 1 0 -2.2 0ZM157.1 642.3a1.1 1.1 0 1 0 2.2 0a1.1 1.1 0 1 0 -2.2 0ZM156.4 642.9a1.1 1.1 0 1 0 2.2 0a1.1 1.1 0 1 0 -2.2 0ZM156.3 641.9a1.1 1.1 0 1 0 2.2 0a1.1 1.1 0 1 0 -2.2 0ZM156.7 642.1a1.1 1.1 0 1 0 2.2 0a1.1 1.1 0 1 0 -2.2 0ZM156.8 642.7a1.1 1.1 0 1 0 2.2 0a1.1 1.1 0 1 0 -2.2 0ZM156.2 642.9a1.1 1.1 0 1 0 2.2 0a1.1 1.1 0 1 0 -2.2 0ZM156.4 641.9a1.1 1.1 0 1 0 2.2 0a1.1 1.1 0 1 0 -2.2 0ZM156.4 642.4a1.1 1.1 0 1 0 2.2 0a1.1 1.1 0 1 0 -2.2 0ZM157.1 642.2a1.1 1.1 0 1 0 2.2 0a1.1 1.1 0 1 0 -2.2 0ZM156.9 643.0a1.1 1.1 0 1 0 2.2 0a1.1 1.1 0 1 0 -2.2 0ZM156.5 642.0a1.1 1.1 0 1 0 2.2 0a1.1 1.1 0 1 0 -2.2 0ZM156.4 642.4a1.1 1.1 0 1 0 2.2 0a1.1 1.1 0 1 0 -2.2 0ZM156.6 641.9a1.1 1.1 0 1 0 2.2 0a1.1 1.1 0 1 0 -2.2 0ZM156.3 642.7a1.1 1.1 0 1 0 2.2 0a1.1 1.1 0 1 0 -2.2 0ZM157.3 642.2a1.1 1.1 0 1 0 2.2 0a1.1 1.1 0 1 0 -2.2 0ZM157.0 642.3a1.1 1.1 0 1 0 2.2 0a1.1 1.1 0 1 0 -2.2 0ZM158.0 643.1a1.1 1.1 0 1 0 2.2 0a1.1 1.1 0 1 0 -2.2 0ZM157.6 643.1a1.1 1.1 0 1 0 2.2 0a1.1 1.1 0 1 0 -2.2 0ZM158.3 643.0a1.1 1.1 0 1 0 2.2 0a1.1 1.1 0 1 0 -2.2 0ZM158.1 642.1a1.1 1.1 0 1 0 2.2 0a1.1 1.1 0 1 0 -2.2 0ZM158.7 643.0a1.1 1.1 0 1 0 2.2 0a1.1 1.1 0 1 0 -2.2 0ZM158.6 643.0a1.1 1.1 0 1 0 2.2 0a1.1 1.1 0 1 0 -2.2 0ZM159.1 641.9a1.1 1.1 0 1 0 2.2 0a1.1 1.1 0 1 0 -2.2 0ZM160.1 642.5a1.1 1.1 0 1 0 2.2 0a1.1 1.1 0 1 0 -2.2 0ZM159.7 642.5a1.1 1.1 0 1 0 2.2 0a1.1 1.1 0 1 0 -2.2 0ZM160.2 642.1a1.1 1.1 0 1 0 2.2 0a1.1 1.1 0 1 0 -2.2 0ZM160.9 634.1a1.1 1.1 0 1 0 2.2 0a1.1 1.1 0 1 0 -2.2 0ZM161.4 638.4a1.1 1.1 0 1 0 2.2 0a1.1 1.1 0 1 0 -2.2 0ZM161.5 637.5a1.1 1.1 0 1 0 2.2 0a1.1 1.1 0 1 0 -2.2 0ZM161.5 636.7a1.1 1.1 0 1 0 2.2 0a1.1 1.1 0 1 0 -2.2 0ZM162.9 637.3a1.1 1.1 0 1 0 2.2 0a1.1 1.1 0 1 0 -2.2 0ZM163.4 634.2a1.1 1.1 0 1 0 2.2 0a1.1 1.1 0 1 0 -2.2 0ZM162.8 637.1a1.1 1.1 0 1 0 2.2 0a1.1 1.1 0 1 0 -2.2 0ZM163.6 640.5a1.1 1.1 0 1 0 2.2 0a1.1 1.1 0 1 0 -2.2 0ZM163.8 635.5a1.1 1.1 0 1 0 2.2 0a1.1 1.1 0 1 0 -2.2 0ZM164.6 637.2a1.1 1.1 0 1 0 2.2 0a1.1 1.1 0 1 0 -2.2 0ZM165.4 636.3a1.1 1.1 0 1 0 2.2 0a1.1 1.1 0 1 0 -2.2 0ZM165.8 634.0a1.1 1.1 0 1 0 2.2 0a1.1 1.1 0 1 0 -2.2 0ZM165.5 633.2a1.1 1.1 0 1 0 2.2 0a1.1 1.1 0 1 0 -2.2 0ZM165.6 631.3a1.1 1.1 0 1 0 2.2 0a1.1 1.1 0 1 0 -2.2 0ZM166.9 633.3a1.1 1.1 0 1 0 2.2 0a1.1 1.1 0 1 0 -2.2 0ZM166.4 634.6a1.1 1.1 0 1 0 2.2 0a1.1 1.1 0 1 0 -2.2 0ZM167.7 635.3a1.1 1.1 0 1 0 2.2 0a1.1 1.1 0 1 0 -2.2 0ZM167.9 636.1a1.1 1.1 0 1 0 2.2 0a1.1 1.1 0 1 0 -2.2 0ZM167.3 634.9a1.1 1.1 0 1 0 2.2 0a1.1 1.1 0 1 0 -2.2 0ZM167.5 631.5a1.1 1.1 0 1 0 2.2 0a1.1 1.1 0 1 0 -2.2 0ZM168.4 636.3a1.1 1.1 0 1 0 2.2 0a1.1 1.1 0 1 0 -2.2 0ZM168.6 635.2a1.1 1.1 0 1 0 2.2 0a1.1 1.1 0 1 0 -2.2 0ZM169.1 627.7a1.1 1.1 0 1 0 2.2 0a1.1 1.1 0 1 0 -2.2 0ZM169.4 634.0a1.1 1.1 0 1 0 2.2 0a1.1 1.1 0 1 0 -2.2 0ZM168.8 636.1a1.1 1.1 0 1 0 2.2 0a1.1 1.1 0 1 0 -2.2 0ZM168.6 633.0a1.1 1.1 0 1 0 2.2 0a1.1 1.1 0 1 0 -2.2 0ZM169.2 632.3a1.1 1.1 0 1 0 2.2 0a1.1 1.1 0 1 0 -2.2 0ZM170.0 629.8a1.1 1.1 0 1 0 2.2 0a1.1 1.1 0 1 0 -2.2 0ZM170.3 630.8a1.1 1.1 0 1 0 2.2 0a1.1 1.1 0 1 0 -2.2 0ZM169.7 635.5a1.1 1.1 0 1 0 2.2 0a1.1 1.1 0 1 0 -2.2 0ZM169.8 633.6a1.1 1.1 0 1 0 2.2 0a1.1 1.1 0 1 0 -2.2 0ZM169.8 630.3a1.1 1.1 0 1 0 2.2 0a1.1 1.1 0 1 0 -2.2 0ZM170.3 635.1a1.1 1.1 0 1 0 2.2 0a1.1 1.1 0 1 0 -2.2 0ZM170.4 631.1a1.1 1.1 0 1 0 2.2 0a1.1 1.1 0 1 0 -2.2 0ZM170.2 634.1a1.1 1.1 0 1 0 2.2 0a1.1 1.1 0 1 0 -2.2 0ZM171.0 632.3a1.1 1.1 0 1 0 2.2 0a1.1 1.1 0 1 0 -2.2 0ZM171.0 633.9a1.1 1.1 0 1 0 2.2 0a1.1 1.1 0 1 0 -2.2 0ZM171.6 631.1a1.1 1.1 0 1 0 2.2 0a1.1 1.1 0 1 0 -2.2 0ZM171.2 634.5a1.1 1.1 0 1 0 2.2 0a1.1 1.1 0 1 0 -2.2 0ZM171.7 633.2a1.1 1.1 0 1 0 2.2 0a1.1 1.1 0 1 0 -2.2 0ZM171.8 635.4a1.1 1.1 0 1 0 2.2 0a1.1 1.1 0 1 0 -2.2 0ZM171.7 629.0a1.1 1.1 0 1 0 2.2 0a1.1 1.1 0 1 0 -2.2 0ZM171.9 631.9a1.1 1.1 0 1 0 2.2 0a1.1 1.1 0 1 0 -2.2 0ZM171.9 631.3a1.1 1.1 0 1 0 2.2 0a1.1 1.1 0 1 0 -2.2 0ZM172.3 628.3a1.1 1.1 0 1 0 2.2 0a1.1 1.1 0 1 0 -2.2 0ZM172.2 634.1a1.1 1.1 0 1 0 2.2 0a1.1 1.1 0 1 0 -2.2 0ZM173.4 633.3a1.1 1.1 0 1 0 2.2 0a1.1 1.1 0 1 0 -2.2 0ZM173.0 631.8a1.1 1.1 0 1 0 2.2 0a1.1 1.1 0 1 0 -2.2 0ZM173.6 627.3a1.1 1.1 0 1 0 2.2 0a1.1 1.1 0 1 0 -2.2 0ZM173.9 625.3a1.1 1.1 0 1 0 2.2 0a1.1 1.1 0 1 0 -2.2 0ZM174.2 634.2a1.1 1.1 0 1 0 2.2 0a1.1 1.1 0 1 0 -2.2 0ZM174.2 633.4a1.1 1.1 0 1 0 2.2 0a1.1 1.1 0 1 0 -2.2 0ZM174.4 631.9a1.1 1.1 0 1 0 2.2 0a1.1 1.1 0 1 0 -2.2 0ZM175.0 628.9a1.1 1.1 0 1 0 2.2 0a1.1 1.1 0 1 0 -2.2 0ZM174.9 631.1a1.1 1.1 0 1 0 2.2 0a1.1 1.1 0 1 0 -2.2 0ZM175.7 630.8a1.1 1.1 0 1 0 2.2 0a1.1 1.1 0 1 0 -2.2 0ZM175.4 630.7a1.1 1.1 0 1 0 2.2 0a1.1 1.1 0 1 0 -2.2 0ZM176.0 630.3a1.1 1.1 0 1 0 2.2 0a1.1 1.1 0 1 0 -2.2 0ZM175.8 632.0a1.1 1.1 0 1 0 2.2 0a1.1 1.1 0 1 0 -2.2 0ZM176.7 632.1a1.1 1.1 0 1 0 2.2 0a1.1 1.1 0 1 0 -2.2 0ZM176.0 629.1a1.1 1.1 0 1 0 2.2 0a1.1 1.1 0 1 0 -2.2 0ZM177.0 627.7a1.1 1.1 0 1 0 2.2 0a1.1 1.1 0 1 0 -2.2 0ZM177.5 631.5a1.1 1.1 0 1 0 2.2 0a1.1 1.1 0 1 0 -2.2 0ZM177.2 628.6a1.1 1.1 0 1 0 2.2 0a1.1 1.1 0 1 0 -2.2 0ZM177.0 632.3a1.1 1.1 0 1 0 2.2 0a1.1 1.1 0 1 0 -2.2 0ZM178.1 630.2a1.1 1.1 0 1 0 2.2 0a1.1 1.1 0 1 0 -2.2 0ZM178.3 627.4a1.1 1.1 0 1 0 2.2 0a1.1 1.1 0 1 0 -2.2 0ZM177.6 628.2a1.1 1.1 0 1 0 2.2 0a1.1 1.1 0 1 0 -2.2 0ZM178.6 630.2a1.1 1.1 0 1 0 2.2 0a1.1 1.1 0 1 0 -2.2 0ZM178.8 638.1a1.1 1.1 0 1 0 2.2 0a1.1 1.1 0 1 0 -2.2 0ZM178.6 624.7a1.1 1.1 0 1 0 2.2 0a1.1 1.1 0 1 0 -2.2 0ZM178.7 629.8a1.1 1.1 0 1 0 2.2 0a1.1 1.1 0 1 0 -2.2 0ZM179.5 630.6a1.1 1.1 0 1 0 2.2 0a1.1 1.1 0 1 0 -2.2 0ZM179.9 633.6a1.1 1.1 0 1 0 2.2 0a1.1 1.1 0 1 0 -2.2 0ZM179.7 628.9a1.1 1.1 0 1 0 2.2 0a1.1 1.1 0 1 0 -2.2 0ZM179.4 624.7a1.1 1.1 0 1 0 2.2 0a1.1 1.1 0 1 0 -2.2 0ZM180.1 624.5a1.1 1.1 0 1 0 2.2 0a1.1 1.1 0 1 0 -2.2 0ZM181.0 625.7a1.1 1.1 0 1 0 2.2 0a1.1 1.1 0 1 0 -2.2 0ZM180.9 626.3a1.1 1.1 0 1 0 2.2 0a1.1 1.1 0 1 0 -2.2 0ZM181.4 626.0a1.1 1.1 0 1 0 2.2 0a1.1 1.1 0 1 0 -2.2 0ZM181.4 631.9a1.1 1.1 0 1 0 2.2 0a1.1 1.1 0 1 0 -2.2 0ZM180.8 628.1a1.1 1.1 0 1 0 2.2 0a1.1 1.1 0 1 0 -2.2 0ZM181.1 627.2a1.1 1.1 0 1 0 2.2 0a1.1 1.1 0 1 0 -2.2 0ZM181.9 624.6a1.1 1.1 0 1 0 2.2 0a1.1 1.1 0 1 0 -2.2 0ZM181.4 623.7a1.1 1.1 0 1 0 2.2 0a1.1 1.1 0 1 0 -2.2 0ZM181.6 625.1a1.1 1.1 0 1 0 2.2 0a1.1 1.1 0 1 0 -2.2 0ZM182.4 624.9a1.1 1.1 0 1 0 2.2 0a1.1 1.1 0 1 0 -2.2 0ZM181.7 627.6a1.1 1.1 0 1 0 2.2 0a1.1 1.1 0 1 0 -2.2 0ZM181.7 623.0a1.1 1.1 0 1 0 2.2 0a1.1 1.1 0 1 0 -2.2 0ZM182.5 628.3a1.1 1.1 0 1 0 2.2 0a1.1 1.1 0 1 0 -2.2 0ZM182.2 626.3a1.1 1.1 0 1 0 2.2 0a1.1 1.1 0 1 0 -2.2 0ZM182.3 628.4a1.1 1.1 0 1 0 2.2 0a1.1 1.1 0 1 0 -2.2 0ZM182.1 628.9a1.1 1.1 0 1 0 2.2 0a1.1 1.1 0 1 0 -2.2 0ZM182.8 628.6a1.1 1.1 0 1 0 2.2 0a1.1 1.1 0 1 0 -2.2 0ZM182.8 625.8a1.1 1.1 0 1 0 2.2 0a1.1 1.1 0 1 0 -2.2 0ZM182.9 629.7a1.1 1.1 0 1 0 2.2 0a1.1 1.1 0 1 0 -2.2 0ZM182.3 626.9a1.1 1.1 0 1 0 2.2 0a1.1 1.1 0 1 0 -2.2 0ZM182.4 629.6a1.1 1.1 0 1 0 2.2 0a1.1 1.1 0 1 0 -2.2 0ZM182.5 624.1a1.1 1.1 0 1 0 2.2 0a1.1 1.1 0 1 0 -2.2 0ZM183.7 628.7a1.1 1.1 0 1 0 2.2 0a1.1 1.1 0 1 0 -2.2 0ZM182.8 628.8a1.1 1.1 0 1 0 2.2 0a1.1 1.1 0 1 0 -2.2 0ZM182.9 628.6a1.1 1.1 0 1 0 2.2 0a1.1 1.1 0 1 0 -2.2 0ZM183.0 628.5a1.1 1.1 0 1 0 2.2 0a1.1 1.1 0 1 0 -2.2 0ZM183.3 624.4a1.1 1.1 0 1 0 2.2 0a1.1 1.1 0 1 0 -2.2 0ZM183.7 625.1a1.1 1.1 0 1 0 2.2 0a1.1 1.1 0 1 0 -2.2 0ZM183.3 621.5a1.1 1.1 0 1 0 2.2 0a1.1 1.1 0 1 0 -2.2 0ZM183.5 623.1a1.1 1.1 0 1 0 2.2 0a1.1 1.1 0 1 0 -2.2 0ZM183.8 625.8a1.1 1.1 0 1 0 2.2 0a1.1 1.1 0 1 0 -2.2 0ZM183.6 628.2a1.1 1.1 0 1 0 2.2 0a1.1 1.1 0 1 0 -2.2 0ZM184.4 625.5a1.1 1.1 0 1 0 2.2 0a1.1 1.1 0 1 0 -2.2 0ZM184.7 628.3a1.1 1.1 0 1 0 2.2 0a1.1 1.1 0 1 0 -2.2 0ZM184.1 629.4a1.1 1.1 0 1 0 2.2 0a1.1 1.1 0 1 0 -2.2 0ZM184.6 626.6a1.1 1.1 0 1 0 2.2 0a1.1 1.1 0 1 0 -2.2 0ZM184.4 625.0a1.1 1.1 0 1 0 2.2 0a1.1 1.1 0 1 0 -2.2 0ZM185.2 625.6a1.1 1.1 0 1 0 2.2 0a1.1 1.1 0 1 0 -2.2 0ZM185.0 624.9a1.1 1.1 0 1 0 2.2 0a1.1 1.1 0 1 0 -2.2 0ZM184.5 630.0a1.1 1.1 0 1 0 2.2 0a1.1 1.1 0 1 0 -2.2 0ZM185.7 624.3a1.1 1.1 0 1 0 2.2 0a1.1 1.1 0 1 0 -2.2 0ZM185.0 632.1a1.1 1.1 0 1 0 2.2 0a1.1 1.1 0 1 0 -2.2 0ZM185.0 628.4a1.1 1.1 0 1 0 2.2 0a1.1 1.1 0 1 0 -2.2 0ZM185.6 630.0a1.1 1.1 0 1 0 2.2 0a1.1 1.1 0 1 0 -2.2 0ZM185.2 624.6a1.1 1.1 0 1 0 2.2 0a1.1 1.1 0 1 0 -2.2 0ZM186.3 623.7a1.1 1.1 0 1 0 2.2 0a1.1 1.1 0 1 0 -2.2 0ZM185.6 628.1a1.1 1.1 0 1 0 2.2 0a1.1 1.1 0 1 0 -2.2 0ZM185.7 626.7a1.1 1.1 0 1 0 2.2 0a1.1 1.1 0 1 0 -2.2 0ZM186.6 629.3a1.1 1.1 0 1 0 2.2 0a1.1 1.1 0 1 0 -2.2 0ZM185.8 617.5a1.1 1.1 0 1 0 2.2 0a1.1 1.1 0 1 0 -2.2 0ZM186.7 620.4a1.1 1.1 0 1 0 2.2 0a1.1 1.1 0 1 0 -2.2 0ZM187.0 627.7a1.1 1.1 0 1 0 2.2 0a1.1 1.1 0 1 0 -2.2 0ZM186.4 623.8a1.1 1.1 0 1 0 2.2 0a1.1 1.1 0 1 0 -2.2 0ZM187.4 619.6a1.1 1.1 0 1 0 2.2 0a1.1 1.1 0 1 0 -2.2 0ZM187.2 624.3a1.1 1.1 0 1 0 2.2 0a1.1 1.1 0 1 0 -2.2 0ZM187.0 622.4a1.1 1.1 0 1 0 2.2 0a1.1 1.1 0 1 0 -2.2 0ZM187.0 621.9a1.1 1.1 0 1 0 2.2 0a1.1 1.1 0 1 0 -2.2 0ZM187.9 628.0a1.1 1.1 0 1 0 2.2 0a1.1 1.1 0 1 0 -2.2 0ZM187.9 625.3a1.1 1.1 0 1 0 2.2 0a1.1 1.1 0 1 0 -2.2 0ZM188.1 625.0a1.1 1.1 0 1 0 2.2 0a1.1 1.1 0 1 0 -2.2 0ZM188.5 620.7a1.1 1.1 0 1 0 2.2 0a1.1 1.1 0 1 0 -2.2 0ZM188.0 623.3a1.1 1.1 0 1 0 2.2 0a1.1 1.1 0 1 0 -2.2 0ZM187.7 625.0a1.1 1.1 0 1 0 2.2 0a1.1 1.1 0 1 0 -2.2 0ZM187.9 625.8a1.1 1.1 0 1 0 2.2 0a1.1 1.1 0 1 0 -2.2 0ZM188.9 616.7a1.1 1.1 0 1 0 2.2 0a1.1 1.1 0 1 0 -2.2 0ZM189.2 620.8a1.1 1.1 0 1 0 2.2 0a1.1 1.1 0 1 0 -2.2 0ZM188.5 624.5a1.1 1.1 0 1 0 2.2 0a1.1 1.1 0 1 0 -2.2 0ZM189.3 622.0a1.1 1.1 0 1 0 2.2 0a1.1 1.1 0 1 0 -2.2 0ZM188.7 622.9a1.1 1.1 0 1 0 2.2 0a1.1 1.1 0 1 0 -2.2 0ZM189.8 629.2a1.1 1.1 0 1 0 2.2 0a1.1 1.1 0 1 0 -2.2 0ZM189.3 627.7a1.1 1.1 0 1 0 2.2 0a1.1 1.1 0 1 0 -2.2 0ZM189.3 622.9a1.1 1.1 0 1 0 2.2 0a1.1 1.1 0 1 0 -2.2 0ZM189.7 623.6a1.1 1.1 0 1 0 2.2 0a1.1 1.1 0 1 0 -2.2 0ZM190.6 621.0a1.1 1.1 0 1 0 2.2 0a1.1 1.1 0 1 0 -2.2 0ZM190.3 619.4a1.1 1.1 0 1 0 2.2 0a1.1 1.1 0 1 0 -2.2 0ZM190.3 624.4a1.1 1.1 0 1 0 2.2 0a1.1 1.1 0 1 0 -2.2 0ZM190.3 624.5a1.1 1.1 0 1 0 2.2 0a1.1 1.1 0 1 0 -2.2 0ZM190.3 625.3a1.1 1.1 0 1 0 2.2 0a1.1 1.1 0 1 0 -2.2 0ZM191.4 626.5a1.1 1.1 0 1 0 2.2 0a1.1 1.1 0 1 0 -2.2 0ZM191.0 624.1a1.1 1.1 0 1 0 2.2 0a1.1 1.1 0 1 0 -2.2 0ZM191.3 625.9a1.1 1.1 0 1 0 2.2 0a1.1 1.1 0 1 0 -2.2 0ZM191.1 629.5a1.1 1.1 0 1 0 2.2 0a1.1 1.1 0 1 0 -2.2 0ZM191.2 621.8a1.1 1.1 0 1 0 2.2 0a1.1 1.1 0 1 0 -2.2 0ZM191.5 625.4a1.1 1.1 0 1 0 2.2 0a1.1 1.1 0 1 0 -2.2 0ZM191.6 623.6a1.1 1.1 0 1 0 2.2 0a1.1 1.1 0 1 0 -2.2 0ZM192.3 615.9a1.1 1.1 0 1 0 2.2 0a1.1 1.1 0 1 0 -2.2 0ZM191.9 623.0a1.1 1.1 0 1 0 2.2 0a1.1 1.1 0 1 0 -2.2 0ZM192.8 624.2a1.1 1.1 0 1 0 2.2 0a1.1 1.1 0 1 0 -2.2 0ZM193.2 625.5a1.1 1.1 0 1 0 2.2 0a1.1 1.1 0 1 0 -2.2 0ZM192.8 620.4a1.1 1.1 0 1 0 2.2 0a1.1 1.1 0 1 0 -2.2 0ZM192.5 627.4a1.1 1.1 0 1 0 2.2 0a1.1 1.1 0 1 0 -2.2 0ZM193.3 620.2a1.1 1.1 0 1 0 2.2 0a1.1 1.1 0 1 0 -2.2 0ZM193.8 616.8a1.1 1.1 0 1 0 2.2 0a1.1 1.1 0 1 0 -2.2 0ZM193.6 616.5a1.1 1.1 0 1 0 2.2 0a1.1 1.1 0 1 0 -2.2 0ZM193.8 620.8a1.1 1.1 0 1 0 2.2 0a1.1 1.1 0 1 0 -2.2 0ZM194.0 622.9a1.1 1.1 0 1 0 2.2 0a1.1 1.1 0 1 0 -2.2 0ZM194.2 624.9a1.1 1.1 0 1 0 2.2 0a1.1 1.1 0 1 0 -2.2 0ZM194.9 619.5a1.1 1.1 0 1 0 2.2 0a1.1 1.1 0 1 0 -2.2 0ZM194.0 624.0a1.1 1.1 0 1 0 2.2 0a1.1 1.1 0 1 0 -2.2 0ZM195.2 618.2a1.1 1.1 0 1 0 2.2 0a1.1 1.1 0 1 0 -2.2 0ZM194.9 619.2a1.1 1.1 0 1 0 2.2 0a1.1 1.1 0 1 0 -2.2 0ZM194.9 618.2a1.1 1.1 0 1 0 2.2 0a1.1 1.1 0 1 0 -2.2 0ZM195.9 621.9a1.1 1.1 0 1 0 2.2 0a1.1 1.1 0 1 0 -2.2 0ZM196.4 613.2a1.1 1.1 0 1 0 2.2 0a1.1 1.1 0 1 0 -2.2 0ZM196.4 622.4a1.1 1.1 0 1 0 2.2 0a1.1 1.1 0 1 0 -2.2 0ZM196.2 619.1a1.1 1.1 0 1 0 2.2 0a1.1 1.1 0 1 0 -2.2 0ZM196.9 615.9a1.1 1.1 0 1 0 2.2 0a1.1 1.1 0 1 0 -2.2 0ZM196.7 620.2a1.1 1.1 0 1 0 2.2 0a1.1 1.1 0 1 0 -2.2 0ZM197.9 619.7a1.1 1.1 0 1 0 2.2 0a1.1 1.1 0 1 0 -2.2 0ZM197.2 615.4a1.1 1.1 0 1 0 2.2 0a1.1 1.1 0 1 0 -2.2 0ZM198.0 622.3a1.1 1.1 0 1 0 2.2 0a1.1 1.1 0 1 0 -2.2 0ZM197.9 620.2a1.1 1.1 0 1 0 2.2 0a1.1 1.1 0 1 0 -2.2 0ZM198.2 622.8a1.1 1.1 0 1 0 2.2 0a1.1 1.1 0 1 0 -2.2 0ZM199.0 624.9a1.1 1.1 0 1 0 2.2 0a1.1 1.1 0 1 0 -2.2 0ZM198.7 624.6a1.1 1.1 0 1 0 2.2 0a1.1 1.1 0 1 0 -2.2 0ZM199.6 614.5a1.1 1.1 0 1 0 2.2 0a1.1 1.1 0 1 0 -2.2 0ZM199.2 617.1a1.1 1.1 0 1 0 2.2 0a1.1 1.1 0 1 0 -2.2 0ZM199.2 623.0a1.1 1.1 0 1 0 2.2 0a1.1 1.1 0 1 0 -2.2 0ZM199.7 616.7a1.1 1.1 0 1 0 2.2 0a1.1 1.1 0 1 0 -2.2 0ZM199.7 620.5a1.1 1.1 0 1 0 2.2 0a1.1 1.1 0 1 0 -2.2 0ZM199.7 619.2a1.1 1.1 0 1 0 2.2 0a1.1 1.1 0 1 0 -2.2 0ZM199.7 619.4a1.1 1.1 0 1 0 2.2 0a1.1 1.1 0 1 0 -2.2 0ZM200.0 613.7a1.1 1.1 0 1 0 2.2 0a1.1 1.1 0 1 0 -2.2 0ZM200.0 616.3a1.1 1.1 0 1 0 2.2 0a1.1 1.1 0 1 0 -2.2 0ZM200.8 617.4a1.1 1.1 0 1 0 2.2 0a1.1 1.1 0 1 0 -2.2 0ZM199.8 623.5a1.1 1.1 0 1 0 2.2 0a1.1 1.1 0 1 0 -2.2 0ZM200.0 622.8a1.1 1.1 0 1 0 2.2 0a1.1 1.1 0 1 0 -2.2 0ZM200.7 620.1a1.1 1.1 0 1 0 2.2 0a1.1 1.1 0 1 0 -2.2 0ZM200.6 615.1a1.1 1.1 0 1 0 2.2 0a1.1 1.1 0 1 0 -2.2 0ZM201.0 617.8a1.1 1.1 0 1 0 2.2 0a1.1 1.1 0 1 0 -2.2 0ZM201.5 620.5a1.1 1.1 0 1 0 2.2 0a1.1 1.1 0 1 0 -2.2 0ZM200.8 615.5a1.1 1.1 0 1 0 2.2 0a1.1 1.1 0 1 0 -2.2 0ZM200.9 620.6a1.1 1.1 0 1 0 2.2 0a1.1 1.1 0 1 0 -2.2 0ZM201.1 609.0a1.1 1.1 0 1 0 2.2 0a1.1 1.1 0 1 0 -2.2 0ZM201.6 625.1a1.1 1.1 0 1 0 2.2 0a1.1 1.1 0 1 0 -2.2 0ZM201.3 606.9a1.1 1.1 0 1 0 2.2 0a1.1 1.1 0 1 0 -2.2 0ZM202.4 609.5a1.1 1.1 0 1 0 2.2 0a1.1 1.1 0 1 0 -2.2 0ZM201.8 611.7a1.1 1.1 0 1 0 2.2 0a1.1 1.1 0 1 0 -2.2 0ZM202.1 614.7a1.1 1.1 0 1 0 2.2 0a1.1 1.1 0 1 0 -2.2 0ZM202.1 621.4a1.1 1.1 0 1 0 2.2 0a1.1 1.1 0 1 0 -2.2 0ZM202.3 612.4a1.1 1.1 0 1 0 2.2 0a1.1 1.1 0 1 0 -2.2 0ZM202.2 619.7a1.1 1.1 0 1 0 2.2 0a1.1 1.1 0 1 0 -2.2 0ZM202.9 623.9a1.1 1.1 0 1 0 2.2 0a1.1 1.1 0 1 0 -2.2 0ZM202.3 618.6a1.1 1.1 0 1 0 2.2 0a1.1 1.1 0 1 0 -2.2 0ZM202.2 617.4a1.1 1.1 0 1 0 2.2 0a1.1 1.1 0 1 0 -2.2 0ZM203.4 617.5a1.1 1.1 0 1 0 2.2 0a1.1 1.1 0 1 0 -2.2 0ZM202.8 615.4a1.1 1.1 0 1 0 2.2 0a1.1 1.1 0 1 0 -2.2 0ZM203.4 615.6a1.1 1.1 0 1 0 2.2 0a1.1 1.1 0 1 0 -2.2 0ZM202.5 622.5a1.1 1.1 0 1 0 2.2 0a1.1 1.1 0 1 0 -2.2 0ZM203.2 617.1a1.1 1.1 0 1 0 2.2 0a1.1 1.1 0 1 0 -2.2 0ZM203.6 616.5a1.1 1.1 0 1 0 2.2 0a1.1 1.1 0 1 0 -2.2 0ZM203.5 612.2a1.1 1.1 0 1 0 2.2 0a1.1 1.1 0 1 0 -2.2 0ZM203.4 616.6a1.1 1.1 0 1 0 2.2 0a1.1 1.1 0 1 0 -2.2 0ZM203.6 614.6a1.1 1.1 0 1 0 2.2 0a1.1 1.1 0 1 0 -2.2 0ZM204.2 616.5a1.1 1.1 0 1 0 2.2 0a1.1 1.1 0 1 0 -2.2 0ZM203.4 619.7a1.1 1.1 0 1 0 2.2 0a1.1 1.1 0 1 0 -2.2 0ZM204.1 621.4a1.1 1.1 0 1 0 2.2 0a1.1 1.1 0 1 0 -2.2 0ZM204.4 613.9a1.1 1.1 0 1 0 2.2 0a1.1 1.1 0 1 0 -2.2 0ZM203.6 631.3a1.1 1.1 0 1 0 2.2 0a1.1 1.1 0 1 0 -2.2 0ZM204.7 615.8a1.1 1.1 0 1 0 2.2 0a1.1 1.1 0 1 0 -2.2 0ZM204.1 620.7a1.1 1.1 0 1 0 2.2 0a1.1 1.1 0 1 0 -2.2 0ZM204.5 617.1a1.1 1.1 0 1 0 2.2 0a1.1 1.1 0 1 0 -2.2 0ZM204.0 612.0a1.1 1.1 0 1 0 2.2 0a1.1 1.1 0 1 0 -2.2 0ZM205.0 617.9a1.1 1.1 0 1 0 2.2 0a1.1 1.1 0 1 0 -2.2 0ZM204.3 616.0a1.1 1.1 0 1 0 2.2 0a1.1 1.1 0 1 0 -2.2 0ZM204.9 608.8a1.1 1.1 0 1 0 2.2 0a1.1 1.1 0 1 0 -2.2 0ZM204.6 615.4a1.1 1.1 0 1 0 2.2 0a1.1 1.1 0 1 0 -2.2 0ZM204.5 615.3a1.1 1.1 0 1 0 2.2 0a1.1 1.1 0 1 0 -2.2 0ZM205.3 620.7a1.1 1.1 0 1 0 2.2 0a1.1 1.1 0 1 0 -2.2 0ZM205.8 617.5a1.1 1.1 0 1 0 2.2 0a1.1 1.1 0 1 0 -2.2 0ZM205.5 613.6a1.1 1.1 0 1 0 2.2 0a1.1 1.1 0 1 0 -2.2 0ZM205.3 616.3a1.1 1.1 0 1 0 2.2 0a1.1 1.1 0 1 0 -2.2 0ZM205.7 614.0a1.1 1.1 0 1 0 2.2 0a1.1 1.1 0 1 0 -2.2 0ZM205.3 623.6a1.1 1.1 0 1 0 2.2 0a1.1 1.1 0 1 0 -2.2 0ZM205.5 620.0a1.1 1.1 0 1 0 2.2 0a1.1 1.1 0 1 0 -2.2 0ZM206.0 627.4a1.1 1.1 0 1 0 2.2 0a1.1 1.1 0 1 0 -2.2 0ZM206.5 614.9a1.1 1.1 0 1 0 2.2 0a1.1 1.1 0 1 0 -2.2 0ZM206.6 602.9a1.1 1.1 0 1 0 2.2 0a1.1 1.1 0 1 0 -2.2 0ZM206.3 613.8a1.1 1.1 0 1 0 2.2 0a1.1 1.1 0 1 0 -2.2 0ZM206.6 613.8a1.1 1.1 0 1 0 2.2 0a1.1 1.1 0 1 0 -2.2 0ZM206.8 614.1a1.1 1.1 0 1 0 2.2 0a1.1 1.1 0 1 0 -2.2 0ZM207.2 618.7a1.1 1.1 0 1 0 2.2 0a1.1 1.1 0 1 0 -2.2 0ZM207.1 617.6a1.1 1.1 0 1 0 2.2 0a1.1 1.1 0 1 0 -2.2 0ZM207.2 616.1a1.1 1.1 0 1 0 2.2 0a1.1 1.1 0 1 0 -2.2 0ZM207.2 616.3a1.1 1.1 0 1 0 2.2 0a1.1 1.1 0 1 0 -2.2 0ZM207.3 613.4a1.1 1.1 0 1 0 2.2 0a1.1 1.1 0 1 0 -2.2 0ZM207.1 625.0a1.1 1.1 0 1 0 2.2 0a1.1 1.1 0 1 0 -2.2 0ZM207.4 616.4a1.1 1.1 0 1 0 2.2 0a1.1 1.1 0 1 0 -2.2 0ZM208.3 614.5a1.1 1.1 0 1 0 2.2 0a1.1 1.1 0 1 0 -2.2 0ZM208.1 615.1a1.1 1.1 0 1 0 2.2 0a1.1 1.1 0 1 0 -2.2 0ZM208.4 611.4a1.1 1.1 0 1 0 2.2 0a1.1 1.1 0 1 0 -2.2 0ZM207.8 617.6a1.1 1.1 0 1 0 2.2 0a1.1 1.1 0 1 0 -2.2 0ZM208.8 617.6a1.1 1.1 0 1 0 2.2 0a1.1 1.1 0 1 0 -2.2 0ZM208.0 622.9a1.1 1.1 0 1 0 2.2 0a1.1 1.1 0 1 0 -2.2 0ZM208.0 604.6a1.1 1.1 0 1 0 2.2 0a1.1 1.1 0 1 0 -2.2 0ZM209.2 606.8a1.1 1.1 0 1 0 2.2 0a1.1 1.1 0 1 0 -2.2 0ZM209.1 608.4a1.1 1.1 0 1 0 2.2 0a1.1 1.1 0 1 0 -2.2 0ZM209.6 618.8a1.1 1.1 0 1 0 2.2 0a1.1 1.1 0 1 0 -2.2 0ZM208.6 618.0a1.1 1.1 0 1 0 2.2 0a1.1 1.1 0 1 0 -2.2 0ZM209.3 609.9a1.1 1.1 0 1 0 2.2 0a1.1 1.1 0 1 0 -2.2 0ZM209.9 615.8a1.1 1.1 0 1 0 2.2 0a1.1 1.1 0 1 0 -2.2 0ZM209.5 607.8a1.1 1.1 0 1 0 2.2 0a1.1 1.1 0 1 0 -2.2 0ZM209.7 615.7a1.1 1.1 0 1 0 2.2 0a1.1 1.1 0 1 0 -2.2 0ZM210.1 616.5a1.1 1.1 0 1 0 2.2 0a1.1 1.1 0 1 0 -2.2 0ZM209.9 605.3a1.1 1.1 0 1 0 2.2 0a1.1 1.1 0 1 0 -2.2 0ZM210.3 619.5a1.1 1.1 0 1 0 2.2 0a1.1 1.1 0 1 0 -2.2 0ZM209.9 622.3a1.1 1.1 0 1 0 2.2 0a1.1 1.1 0 1 0 -2.2 0ZM210.5 607.4a1.1 1.1 0 1 0 2.2 0a1.1 1.1 0 1 0 -2.2 0ZM210.3 613.7a1.1 1.1 0 1 0 2.2 0a1.1 1.1 0 1 0 -2.2 0ZM211.3 611.1a1.1 1.1 0 1 0 2.2 0a1.1 1.1 0 1 0 -2.2 0ZM210.3 614.7a1.1 1.1 0 1 0 2.2 0a1.1 1.1 0 1 0 -2.2 0ZM211.6 618.4a1.1 1.1 0 1 0 2.2 0a1.1 1.1 0 1 0 -2.2 0ZM210.9 610.9a1.1 1.1 0 1 0 2.2 0a1.1 1.1 0 1 0 -2.2 0ZM211.1 610.4a1.1 1.1 0 1 0 2.2 0a1.1 1.1 0 1 0 -2.2 0ZM211.1 608.2a1.1 1.1 0 1 0 2.2 0a1.1 1.1 0 1 0 -2.2 0ZM211.6 620.6a1.1 1.1 0 1 0 2.2 0a1.1 1.1 0 1 0 -2.2 0ZM211.3 609.1a1.1 1.1 0 1 0 2.2 0a1.1 1.1 0 1 0 -2.2 0ZM211.5 610.2a1.1 1.1 0 1 0 2.2 0a1.1 1.1 0 1 0 -2.2 0ZM211.8 619.0a1.1 1.1 0 1 0 2.2 0a1.1 1.1 0 1 0 -2.2 0ZM212.3 612.6a1.1 1.1 0 1 0 2.2 0a1.1 1.1 0 1 0 -2.2 0ZM212.2 615.4a1.1 1.1 0 1 0 2.2 0a1.1 1.1 0 1 0 -2.2 0ZM213.0 612.4a1.1 1.1 0 1 0 2.2 0a1.1 1.1 0 1 0 -2.2 0ZM212.5 614.5a1.1 1.1 0 1 0 2.2 0a1.1 1.1 0 1 0 -2.2 0ZM212.3 621.0a1.1 1.1 0 1 0 2.2 0a1.1 1.1 0 1 0 -2.2 0ZM213.4 607.7a1.1 1.1 0 1 0 2.2 0a1.1 1.1 0 1 0 -2.2 0ZM213.1 608.0a1.1 1.1 0 1 0 2.2 0a1.1 1.1 0 1 0 -2.2 0ZM212.7 615.4a1.1 1.1 0 1 0 2.2 0a1.1 1.1 0 1 0 -2.2 0ZM213.5 615.6a1.1 1.1 0 1 0 2.2 0a1.1 1.1 0 1 0 -2.2 0ZM214.2 613.5a1.1 1.1 0 1 0 2.2 0a1.1 1.1 0 1 0 -2.2 0ZM213.4 614.0a1.1 1.1 0 1 0 2.2 0a1.1 1.1 0 1 0 -2.2 0ZM213.7 611.3a1.1 1.1 0 1 0 2.2 0a1.1 1.1 0 1 0 -2.2 0ZM214.3 605.9a1.1 1.1 0 1 0 2.2 0a1.1 1.1 0 1 0 -2.2 0ZM215.6 611.9a1.1 1.1 0 1 0 2.2 0a1.1 1.1 0 1 0 -2.2 0ZM215.9 614.1a1.1 1.1 0 1 0 2.2 0a1.1 1.1 0 1 0 -2.2 0ZM215.9 609.7a1.1 1.1 0 1 0 2.2 0a1.1 1.1 0 1 0 -2.2 0ZM216.1 607.3a1.1 1.1 0 1 0 2.2 0a1.1 1.1 0 1 0 -2.2 0ZM215.9 612.7a1.1 1.1 0 1 0 2.2 0a1.1 1.1 0 1 0 -2.2 0ZM217.4 605.6a1.1 1.1 0 1 0 2.2 0a1.1 1.1 0 1 0 -2.2 0ZM217.4 612.2a1.1 1.1 0 1 0 2.2 0a1.1 1.1 0 1 0 -2.2 0ZM217.8 611.7a1.1 1.1 0 1 0 2.2 0a1.1 1.1 0 1 0 -2.2 0ZM218.5 602.1a1.1 1.1 0 1 0 2.2 0a1.1 1.1 0 1 0 -2.2 0ZM219.1 607.4a1.1 1.1 0 1 0 2.2 0a1.1 1.1 0 1 0 -2.2 0ZM219.9 606.9a1.1 1.1 0 1 0 2.2 0a1.1 1.1 0 1 0 -2.2 0ZM219.7 607.2a1.1 1.1 0 1 0 2.2 0a1.1 1.1 0 1 0 -2.2 0ZM220.7 606.7a1.1 1.1 0 1 0 2.2 0a1.1 1.1 0 1 0 -2.2 0ZM220.8 604.7a1.1 1.1 0 1 0 2.2 0a1.1 1.1 0 1 0 -2.2 0ZM221.0 602.0a1.1 1.1 0 1 0 2.2 0a1.1 1.1 0 1 0 -2.2 0ZM221.8 600.9a1.1 1.1 0 1 0 2.2 0a1.1 1.1 0 1 0 -2.2 0ZM222.0 605.6a1.1 1.1 0 1 0 2.2 0a1.1 1.1 0 1 0 -2.2 0ZM222.7 611.6a1.1 1.1 0 1 0 2.2 0a1.1 1.1 0 1 0 -2.2 0ZM222.4 612.2a1.1 1.1 0 1 0 2.2 0a1.1 1.1 0 1 0 -2.2 0ZM222.8 605.7a1.1 1.1 0 1 0 2.2 0a1.1 1.1 0 1 0 -2.2 0ZM222.8 609.3a1.1 1.1 0 1 0 2.2 0a1.1 1.1 0 1 0 -2.2 0ZM223.0 612.0a1.1 1.1 0 1 0 2.2 0a1.1 1.1 0 1 0 -2.2 0ZM223.8 614.1a1.1 1.1 0 1 0 2.2 0a1.1 1.1 0 1 0 -2.2 0ZM224.8 602.4a1.1 1.1 0 1 0 2.2 0a1.1 1.1 0 1 0 -2.2 0ZM224.5 612.7a1.1 1.1 0 1 0 2.2 0a1.1 1.1 0 1 0 -2.2 0ZM225.2 607.3a1.1 1.1 0 1 0 2.2 0a1.1 1.1 0 1 0 -2.2 0ZM225.0 612.5a1.1 1.1 0 1 0 2.2 0a1.1 1.1 0 1 0 -2.2 0ZM226.1 606.5a1.1 1.1 0 1 0 2.2 0a1.1 1.1 0 1 0 -2.2 0ZM225.6 606.1a1.1 1.1 0 1 0 2.2 0a1.1 1.1 0 1 0 -2.2 0ZM226.1 611.7a1.1 1.1 0 1 0 2.2 0a1.1 1.1 0 1 0 -2.2 0ZM227.3 607.0a1.1 1.1 0 1 0 2.2 0a1.1 1.1 0 1 0 -2.2 0ZM227.0 604.8a1.1 1.1 0 1 0 2.2 0a1.1 1.1 0 1 0 -2.2 0ZM227.1 595.6a1.1 1.1 0 1 0 2.2 0a1.1 1.1 0 1 0 -2.2 0ZM227.8 605.4a1.1 1.1 0 1 0 2.2 0a1.1 1.1 0 1 0 -2.2 0ZM228.0 604.4a1.1 1.1 0 1 0 2.2 0a1.1 1.1 0 1 0 -2.2 0ZM228.1 609.2a1.1 1.1 0 1 0 2.2 0a1.1 1.1 0 1 0 -2.2 0ZM228.9 603.1a1.1 1.1 0 1 0 2.2 0a1.1 1.1 0 1 0 -2.2 0ZM228.2 603.9a1.1 1.1 0 1 0 2.2 0a1.1 1.1 0 1 0 -2.2 0ZM229.1 601.9a1.1 1.1 0 1 0 2.2 0a1.1 1.1 0 1 0 -2.2 0ZM229.8 603.2a1.1 1.1 0 1 0 2.2 0a1.1 1.1 0 1 0 -2.2 0ZM229.6 601.2a1.1 1.1 0 1 0 2.2 0a1.1 1.1 0 1 0 -2.2 0ZM230.2 604.8a1.1 1.1 0 1 0 2.2 0a1.1 1.1 0 1 0 -2.2 0ZM230.1 602.1a1.1 1.1 0 1 0 2.2 0a1.1 1.1 0 1 0 -2.2 0ZM230.9 609.4a1.1 1.1 0 1 0 2.2 0a1.1 1.1 0 1 0 -2.2 0ZM230.9 608.9a1.1 1.1 0 1 0 2.2 0a1.1 1.1 0 1 0 -2.2 0ZM231.2 609.8a1.1 1.1 0 1 0 2.2 0a1.1 1.1 0 1 0 -2.2 0ZM231.3 601.4a1.1 1.1 0 1 0 2.2 0a1.1 1.1 0 1 0 -2.2 0ZM231.0 600.9a1.1 1.1 0 1 0 2.2 0a1.1 1.1 0 1 0 -2.2 0ZM231.7 616.0a1.1 1.1 0 1 0 2.2 0a1.1 1.1 0 1 0 -2.2 0ZM232.4 596.3a1.1 1.1 0 1 0 2.2 0a1.1 1.1 0 1 0 -2.2 0ZM232.5 591.2a1.1 1.1 0 1 0 2.2 0a1.1 1.1 0 1 0 -2.2 0ZM232.6 599.3a1.1 1.1 0 1 0 2.2 0a1.1 1.1 0 1 0 -2.2 0ZM233.7 600.9a1.1 1.1 0 1 0 2.2 0a1.1 1.1 0 1 0 -2.2 0ZM233.6 602.7a1.1 1.1 0 1 0 2.2 0a1.1 1.1 0 1 0 -2.2 0ZM234.5 599.8a1.1 1.1 0 1 0 2.2 0a1.1 1.1 0 1 0 -2.2 0ZM234.7 596.3a1.1 1.1 0 1 0 2.2 0a1.1 1.1 0 1 0 -2.2 0ZM234.5 606.2a1.1 1.1 0 1 0 2.2 0a1.1 1.1 0 1 0 -2.2 0ZM234.6 609.5a1.1 1.1 0 1 0 2.2 0a1.1 1.1 0 1 0 -2.2 0ZM236.2 606.0a1.1 1.1 0 1 0 2.2 0a1.1 1.1 0 1 0 -2.2 0ZM235.9 597.1a1.1 1.1 0 1 0 2.2 0a1.1 1.1 0 1 0 -2.2 0ZM236.5 594.3a1.1 1.1 0 1 0 2.2 0a1.1 1.1 0 1 0 -2.2 0ZM237.3 598.1a1.1 1.1 0 1 0 2.2 0a1.1 1.1 0 1 0 -2.2 0ZM237.3 594.3a1.1 1.1 0 1 0 2.2 0a1.1 1.1 0 1 0 -2.2 0ZM237.7 611.3a1.1 1.1 0 1 0 2.2 0a1.1 1.1 0 1 0 -2.2 0ZM237.8 598.2a1.1 1.1 0 1 0 2.2 0a1.1 1.1 0 1 0 -2.2 0ZM238.0 612.0a1.1 1.1 0 1 0 2.2 0a1.1 1.1 0 1 0 -2.2 0ZM238.4 587.2a1.1 1.1 0 1 0 2.2 0a1.1 1.1 0 1 0 -2.2 0ZM239.8 610.8a1.1 1.1 0 1 0 2.2 0a1.1 1.1 0 1 0 -2.2 0ZM239.5 604.9a1.1 1.1 0 1 0 2.2 0a1.1 1.1 0 1 0 -2.2 0ZM240.5 607.1a1.1 1.1 0 1 0 2.2 0a1.1 1.1 0 1 0 -2.2 0ZM240.9 598.2a1.1 1.1 0 1 0 2.2 0a1.1 1.1 0 1 0 -2.2 0ZM241.0 601.1a1.1 1.1 0 1 0 2.2 0a1.1 1.1 0 1 0 -2.2 0ZM242.1 600.2a1.1 1.1 0 1 0 2.2 0a1.1 1.1 0 1 0 -2.2 0ZM241.7 597.5a1.1 1.1 0 1 0 2.2 0a1.1 1.1 0 1 0 -2.2 0ZM242.1 603.3a1.1 1.1 0 1 0 2.2 0a1.1 1.1 0 1 0 -2.2 0ZM242.5 606.5a1.1 1.1 0 1 0 2.2 0a1.1 1.1 0 1 0 -2.2 0ZM243.6 608.2a1.1 1.1 0 1 0 2.2 0a1.1 1.1 0 1 0 -2.2 0ZM244.0 600.8a1.1 1.1 0 1 0 2.2 0a1.1 1.1 0 1 0 -2.2 0ZM245.0 609.7a1.1 1.1 0 1 0 2.2 0a1.1 1.1 0 1 0 -2.2 0ZM245.0 599.1a1.1 1.1 0 1 0 2.2 0a1.1 1.1 0 1 0 -2.2 0ZM245.7 598.1a1.1 1.1 0 1 0 2.2 0a1.1 1.1 0 1 0 -2.2 0ZM245.9 613.1a1.1 1.1 0 1 0 2.2 0a1.1 1.1 0 1 0 -2.2 0ZM246.3 587.7a1.1 1.1 0 1 0 2.2 0a1.1 1.1 0 1 0 -2.2 0ZM247.8 580.2a1.1 1.1 0 1 0 2.2 0a1.1 1.1 0 1 0 -2.2 0ZM248.5 602.1a1.1 1.1 0 1 0 2.2 0a1.1 1.1 0 1 0 -2.2 0ZM248.8 597.8a1.1 1.1 0 1 0 2.2 0a1.1 1.1 0 1 0 -2.2 0ZM249.0 588.3a1.1 1.1 0 1 0 2.2 0a1.1 1.1 0 1 0 -2.2 0ZM249.9 607.9a1.1 1.1 0 1 0 2.2 0a1.1 1.1 0 1 0 -2.2 0ZM251.6 595.1a1.1 1.1 0 1 0 2.2 0a1.1 1.1 0 1 0 -2.2 0ZM251.2 592.1a1.1 1.1 0 1 0 2.2 0a1.1 1.1 0 1 0 -2.2 0ZM252.5 591.8a1.1 1.1 0 1 0 2.2 0a1.1 1.1 0 1 0 -2.2 0ZM252.8 603.5a1.1 1.1 0 1 0 2.2 0a1.1 1.1 0 1 0 -2.2 0ZM313.0 531.3a1.1 1.1 0 1 0 2.2 0a1.1 1.1 0 1 0 -2.2 0ZM316.3 544.9a1.1 1.1 0 1 0 2.2 0a1.1 1.1 0 1 0 -2.2 0ZM298.9 547.1a1.1 1.1 0 1 0 2.2 0a1.1 1.1 0 1 0 -2.2 0ZM282.2 553.6a1.1 1.1 0 1 0 2.2 0a1.1 1.1 0 1 0 -2.2 0ZM284.4 560.7a1.1 1.1 0 1 0 2.2 0a1.1 1.1 0 1 0 -2.2 0ZM278.4 562.9a1.1 1.1 0 1 0 2.2 0a1.1 1.1 0 1 0 -2.2 0ZM299.4 564.2a1.1 1.1 0 1 0 2.2 0a1.1 1.1 0 1 0 -2.2 0ZM324.5 558.0a1.1 1.1 0 1 0 2.2 0a1.1 1.1 0 1 0 -2.2 0ZM337.3 563.7a1.1 1.1 0 1 0 2.2 0a1.1 1.1 0 1 0 -2.2 0ZM323.5 567.8a1.1 1.1 0 1 0 2.2 0a1.1 1.1 0 1 0 -2.2 0ZM316.3 580.8a1.1 1.1 0 1 0 2.2 0a1.1 1.1 0 1 0 -2.2 0ZM261.6 571.1a1.1 1.1 0 1 0 2.2 0a1.1 1.1 0 1 0 -2.2 0ZM290.7 570.5a1.1 1.1 0 1 0 2.2 0a1.1 1.1 0 1 0 -2.2 0ZM295.3 576.5a1.1 1.1 0 1 0 2.2 0a1.1 1.1 0 1 0 -2.2 0ZM285.6 590.3a1.1 1.1 0 1 0 2.2 0a1.1 1.1 0 1 0 -2.2 0ZM282.5 583.0a1.1 1.1 0 1 0 2.2 0a1.1 1.1 0 1 0 -2.2 0ZM271.8 595.5a1.1 1.1 0 1 0 2.2 0a1.1 1.1 0 1 0 -2.2 0ZM267.2 603.2a1.1 1.1 0 1 0 2.2 0a1.1 1.1 0 1 0 -2.2 0ZM261.6 591.7a1.1 1.1 0 1 0 2.2 0a1.1 1.1 0 1 0 -2.2 0ZM255.9 581.9a1.1 1.1 0 1 0 2.2 0a1.1 1.1 0 1 0 -2.2 0ZM273.0 578.9a1.1 1.1 0 1 0 2.2 0a1.1 1.1 0 1 0 -2.2 0ZM263.7 576.8a1.1 1.1 0 1 0 2.2 0a1.1 1.1 0 1 0 -2.2 0ZM251.1 595.5a1.1 1.1 0 1 0 2.2 0a1.1 1.1 0 1 0 -2.2 0ZM249.8 605.9a1.1 1.1 0 1 0 2.2 0a1.1 1.1 0 1 0 -2.2 0ZM247.7 608.6a1.1 1.1 0 1 0 2.2 0a1.1 1.1 0 1 0 -2.2 0ZM227.2 586.3a1.1 1.1 0 1 0 2.2 0a1.1 1.1 0 1 0 -2.2 0ZM235.1 589.0a1.1 1.1 0 1 0 2.2 0a1.1 1.1 0 1 0 -2.2 0ZM245.7 586.3a1.1 1.1 0 1 0 2.2 0a1.1 1.1 0 1 0 -2.2 0ZM240.5 593.4a1.1 1.1 0 1 0 2.2 0a1.1 1.1 0 1 0 -2.2 0ZM243.6 591.2a1.1 1.1 0 1 0 2.2 0a1.1 1.1 0 1 0 -2.2 0ZM241.4 615.7a1.1 1.1 0 1 0 2.2 0a1.1 1.1 0 1 0 -2.2 0ZM238.1 609.2a1.1 1.1 0 1 0 2.2 0a1.1 1.1 0 1 0 -2.2 0ZM219.5 597.7a1.1 1.1 0 1 0 2.2 0a1.1 1.1 0 1 0 -2.2 0ZM259.0 590.6a1.1 1.1 0 1 0 2.2 0a1.1 1.1 0 1 0 -2.2 0ZM264.1 589.6a1.1 1.1 0 1 0 2.2 0a1.1 1.1 0 1 0 -2.2 0ZM266.1 586.3a1.1 1.1 0 1 0 2.2 0a1.1 1.1 0 1 0 -2.2 0ZM274.3 583.0a1.1 1.1 0 1 0 2.2 0a1.1 1.1 0 1 0 -2.2 0ZM279.5 579.8a1.1 1.1 0 1 0 2.2 0a1.1 1.1 0 1 0 -2.2 0ZM289.7 576.0a1.1 1.1 0 1 0 2.2 0a1.1 1.1 0 1 0 -2.2 0ZM305.1 567.8a1.1 1.1 0 1 0 2.2 0a1.1 1.1 0 1 0 -2.2 0ZM320.4 562.3a1.1 1.1 0 1 0 2.2 0a1.1 1.1 0 1 0 -2.2 0ZM327.6 556.9a1.1 1.1 0 1 0 2.2 0a1.1 1.1 0 1 0 -2.2 0ZM256.9 593.9a1.1 1.1 0 1 0 2.2 0a1.1 1.1 0 1 0 -2.2 0ZM269.2 587.4a1.1 1.1 0 1 0 2.2 0a1.1 1.1 0 1 0 -2.2 0Z" fill="#000"/>
</svg>
</body></html>
